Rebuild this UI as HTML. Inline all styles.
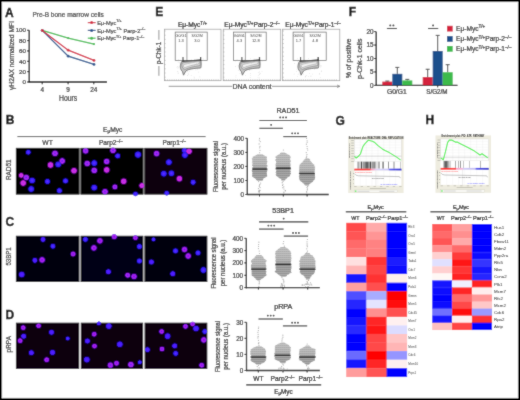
<!DOCTYPE html>
<html><head><meta charset="utf-8"><style>
html,body{margin:0;padding:0;background:#fff;}
svg{display:block;will-change:transform;}
text{font-family:"Liberation Sans",sans-serif;}
</style></head><body>
<svg width="520" height="400" viewBox="0 0 520 400">
<defs>
<filter id="soft" x="0" y="0" width="1" height="1"><feConvolveMatrix order="3" kernelMatrix="0.025 0.075 0.025 0.075 0.6 0.075 0.025 0.075 0.025" edgeMode="duplicate" preserveAlpha="true"/></filter>
<radialGradient id="cb"><stop offset="0" stop-color="#6a28ff" stop-opacity="1"/><stop offset="0.5" stop-color="#3a22ff" stop-opacity="1"/><stop offset="0.78" stop-color="#2a1af0" stop-opacity="0.9"/><stop offset="1" stop-color="#2010e0" stop-opacity="0"/></radialGradient>
<radialGradient id="cm"><stop offset="0" stop-color="#4a20ff" stop-opacity="1"/><stop offset="0.45" stop-color="#b828f0" stop-opacity="1"/><stop offset="0.75" stop-color="#9020f8" stop-opacity="0.9"/><stop offset="1" stop-color="#3018f0" stop-opacity="0"/></radialGradient>
<radialGradient id="cp"><stop offset="0" stop-color="#9030f0" stop-opacity="1"/><stop offset="0.45" stop-color="#e030e0" stop-opacity="1"/><stop offset="0.75" stop-color="#b820e8" stop-opacity="0.9"/><stop offset="1" stop-color="#6018f0" stop-opacity="0"/></radialGradient>
<radialGradient id="cv"><stop offset="0" stop-color="#5a1aff" stop-opacity="1"/><stop offset="0.5" stop-color="#4a1cff" stop-opacity="1"/><stop offset="0.78" stop-color="#3a14f0" stop-opacity="0.9"/><stop offset="1" stop-color="#2010e0" stop-opacity="0"/></radialGradient>
<radialGradient id="cv2"><stop offset="0" stop-color="#4a1aff" stop-opacity="1"/><stop offset="0.45" stop-color="#c020e8" stop-opacity="1"/><stop offset="0.75" stop-color="#7818f0" stop-opacity="0.9"/><stop offset="1" stop-color="#4010e0" stop-opacity="0"/></radialGradient>
<pattern id="swarm" width="2" height="2" patternUnits="userSpaceOnUse"><rect y="0" width="2" height="0.8" fill="#ffffff" fill-opacity="0.22"/><circle cx="0.5" cy="1.5" r="0.4" fill="#707070" fill-opacity="0.25"/></pattern>
<linearGradient id="cg2597_169" x1="0" y1="0" x2="0" y2="1"><stop offset="0" stop-color="#b8b8b8"/><stop offset="0.392" stop-color="#acacac"/><stop offset="0.561" stop-color="#909090"/><stop offset="1" stop-color="#9a9a9a"/></linearGradient>
<linearGradient id="cg2832_168" x1="0" y1="0" x2="0" y2="1"><stop offset="0" stop-color="#b8b8b8"/><stop offset="0.395" stop-color="#acacac"/><stop offset="0.564" stop-color="#909090"/><stop offset="1" stop-color="#9a9a9a"/></linearGradient>
<linearGradient id="cg3069_173" x1="0" y1="0" x2="0" y2="1"><stop offset="0" stop-color="#b8b8b8"/><stop offset="0.391" stop-color="#acacac"/><stop offset="0.559" stop-color="#909090"/><stop offset="1" stop-color="#9a9a9a"/></linearGradient>
<linearGradient id="cg2588_269" x1="0" y1="0" x2="0" y2="1"><stop offset="0" stop-color="#b8b8b8"/><stop offset="0.388" stop-color="#acacac"/><stop offset="0.555" stop-color="#909090"/><stop offset="1" stop-color="#9a9a9a"/></linearGradient>
<linearGradient id="cg2833_264" x1="0" y1="0" x2="0" y2="1"><stop offset="0" stop-color="#b8b8b8"/><stop offset="0.409" stop-color="#acacac"/><stop offset="0.584" stop-color="#909090"/><stop offset="1" stop-color="#9a9a9a"/></linearGradient>
<linearGradient id="cg3075_269" x1="0" y1="0" x2="0" y2="1"><stop offset="0" stop-color="#b8b8b8"/><stop offset="0.427" stop-color="#acacac"/><stop offset="0.610" stop-color="#909090"/><stop offset="1" stop-color="#9a9a9a"/></linearGradient>
<linearGradient id="cg2584_357" x1="0" y1="0" x2="0" y2="1"><stop offset="0" stop-color="#b8b8b8"/><stop offset="0.415" stop-color="#acacac"/><stop offset="0.592" stop-color="#909090"/><stop offset="1" stop-color="#9a9a9a"/></linearGradient>
<linearGradient id="cg2826_355" x1="0" y1="0" x2="0" y2="1"><stop offset="0" stop-color="#b8b8b8"/><stop offset="0.434" stop-color="#acacac"/><stop offset="0.620" stop-color="#909090"/><stop offset="1" stop-color="#9a9a9a"/></linearGradient>
<linearGradient id="cg3073_357" x1="0" y1="0" x2="0" y2="1"><stop offset="0" stop-color="#b8b8b8"/><stop offset="0.419" stop-color="#acacac"/><stop offset="0.599" stop-color="#909090"/><stop offset="1" stop-color="#9a9a9a"/></linearGradient>
<linearGradient id="bcg348" gradientUnits="userSpaceOnUse" x1="354.4" y1="0" x2="401.4" y2="0"><stop offset="0.0447" stop-color="#ffffff"/><stop offset="0.0447" stop-color="#c4c4c4"/><stop offset="0.0766" stop-color="#c4c4c4"/><stop offset="0.0766" stop-color="#ffffff"/><stop offset="0.0766" stop-color="#ffffff"/><stop offset="0.0766" stop-color="#a8a8a8"/><stop offset="0.1085" stop-color="#a8a8a8"/><stop offset="0.1085" stop-color="#ffffff"/><stop offset="0.1085" stop-color="#ffffff"/><stop offset="0.1085" stop-color="#d0d0d0"/><stop offset="0.1298" stop-color="#d0d0d0"/><stop offset="0.1298" stop-color="#ffffff"/><stop offset="0.1298" stop-color="#ffffff"/><stop offset="0.1298" stop-color="#151515"/><stop offset="0.1511" stop-color="#151515"/><stop offset="0.1511" stop-color="#ffffff"/><stop offset="0.1511" stop-color="#ffffff"/><stop offset="0.1511" stop-color="#c8c8c8"/><stop offset="0.1830" stop-color="#c8c8c8"/><stop offset="0.1830" stop-color="#ffffff"/><stop offset="0.1830" stop-color="#ffffff"/><stop offset="0.1830" stop-color="#9a9a9a"/><stop offset="0.2149" stop-color="#9a9a9a"/><stop offset="0.2149" stop-color="#ffffff"/><stop offset="0.2149" stop-color="#ffffff"/><stop offset="0.2149" stop-color="#7a7a7a"/><stop offset="0.2468" stop-color="#7a7a7a"/><stop offset="0.2468" stop-color="#ffffff"/><stop offset="0.2468" stop-color="#ffffff"/><stop offset="0.2468" stop-color="#606060"/><stop offset="0.2894" stop-color="#606060"/><stop offset="0.2894" stop-color="#ffffff"/><stop offset="0.2894" stop-color="#ffffff"/><stop offset="0.2894" stop-color="#8a8a8a"/><stop offset="0.3106" stop-color="#8a8a8a"/><stop offset="0.3106" stop-color="#ffffff"/><stop offset="0.3106" stop-color="#ffffff"/><stop offset="0.3106" stop-color="#a0a0a0"/><stop offset="0.3383" stop-color="#a0a0a0"/><stop offset="0.3383" stop-color="#ffffff"/><stop offset="0.3383" stop-color="#ffffff"/><stop offset="0.3383" stop-color="#202020"/><stop offset="0.3574" stop-color="#202020"/><stop offset="0.3574" stop-color="#ffffff"/><stop offset="0.3574" stop-color="#ffffff"/><stop offset="0.3574" stop-color="#bcbcbc"/><stop offset="0.3851" stop-color="#bcbcbc"/><stop offset="0.3851" stop-color="#ffffff"/><stop offset="0.3851" stop-color="#ffffff"/><stop offset="0.3851" stop-color="#9a9a9a"/><stop offset="0.4170" stop-color="#9a9a9a"/><stop offset="0.4170" stop-color="#ffffff"/><stop offset="0.4170" stop-color="#ffffff"/><stop offset="0.4170" stop-color="#8a8a8a"/><stop offset="0.4489" stop-color="#8a8a8a"/><stop offset="0.4489" stop-color="#ffffff"/><stop offset="0.4489" stop-color="#ffffff"/><stop offset="0.4489" stop-color="#b8b8b8"/><stop offset="0.4702" stop-color="#b8b8b8"/><stop offset="0.4702" stop-color="#ffffff"/><stop offset="0.4702" stop-color="#ffffff"/><stop offset="0.4702" stop-color="#e4e4e4"/><stop offset="0.5021" stop-color="#e4e4e4"/><stop offset="0.5021" stop-color="#ffffff"/><stop offset="0.5021" stop-color="#ffffff"/><stop offset="0.5021" stop-color="#b4b4b4"/><stop offset="0.5447" stop-color="#b4b4b4"/><stop offset="0.5447" stop-color="#ffffff"/><stop offset="0.5872" stop-color="#ffffff"/><stop offset="0.5872" stop-color="#a8a8a8"/><stop offset="0.6085" stop-color="#a8a8a8"/><stop offset="0.6085" stop-color="#ffffff"/><stop offset="0.6085" stop-color="#ffffff"/><stop offset="0.6085" stop-color="#8c8c8c"/><stop offset="0.6298" stop-color="#8c8c8c"/><stop offset="0.6298" stop-color="#ffffff"/><stop offset="0.7043" stop-color="#ffffff"/><stop offset="0.7043" stop-color="#b0b0b0"/><stop offset="0.7255" stop-color="#b0b0b0"/><stop offset="0.7255" stop-color="#ffffff"/><stop offset="0.7255" stop-color="#ffffff"/><stop offset="0.7255" stop-color="#8c8c8c"/><stop offset="0.7468" stop-color="#8c8c8c"/><stop offset="0.7468" stop-color="#ffffff"/><stop offset="0.8319" stop-color="#ffffff"/><stop offset="0.8319" stop-color="#c4c4c4"/><stop offset="0.8532" stop-color="#c4c4c4"/><stop offset="0.8532" stop-color="#ffffff"/><stop offset="0.9766" stop-color="#ffffff"/><stop offset="0.9766" stop-color="#c8c8c8"/><stop offset="0.9936" stop-color="#c8c8c8"/><stop offset="0.9936" stop-color="#ffffff"/></linearGradient>
<linearGradient id="rb348" x1="0" x2="1"><stop offset="0" stop-color="#ff2020"/><stop offset="0.33" stop-color="#ff3838"/><stop offset="0.36" stop-color="#ff8fb0"/><stop offset="0.45" stop-color="#e8c8f0"/><stop offset="0.5" stop-color="#d8d4fa"/><stop offset="0.72" stop-color="#c8c4f8"/><stop offset="0.75" stop-color="#5050f0"/><stop offset="1" stop-color="#0000d0"/></linearGradient>
<linearGradient id="bcg435" gradientUnits="userSpaceOnUse" x1="440.7" y1="0" x2="488.6" y2="0"><stop offset="0.0376" stop-color="#ffffff"/><stop offset="0.0376" stop-color="#c4c4c4"/><stop offset="0.0752" stop-color="#c4c4c4"/><stop offset="0.0752" stop-color="#ffffff"/><stop offset="0.0752" stop-color="#ffffff"/><stop offset="0.0752" stop-color="#808080"/><stop offset="0.0939" stop-color="#808080"/><stop offset="0.0939" stop-color="#ffffff"/><stop offset="0.0939" stop-color="#ffffff"/><stop offset="0.0939" stop-color="#606060"/><stop offset="0.1211" stop-color="#606060"/><stop offset="0.1211" stop-color="#ffffff"/><stop offset="0.1211" stop-color="#ffffff"/><stop offset="0.1211" stop-color="#8c8c8c"/><stop offset="0.1524" stop-color="#8c8c8c"/><stop offset="0.1524" stop-color="#ffffff"/><stop offset="0.1524" stop-color="#ffffff"/><stop offset="0.1524" stop-color="#b0b0b0"/><stop offset="0.1837" stop-color="#b0b0b0"/><stop offset="0.1837" stop-color="#ffffff"/><stop offset="0.1837" stop-color="#ffffff"/><stop offset="0.1837" stop-color="#d4d4d4"/><stop offset="0.2150" stop-color="#d4d4d4"/><stop offset="0.2150" stop-color="#ffffff"/><stop offset="0.2985" stop-color="#ffffff"/><stop offset="0.2985" stop-color="#a4a4a4"/><stop offset="0.3194" stop-color="#a4a4a4"/><stop offset="0.3194" stop-color="#ffffff"/><stop offset="0.3299" stop-color="#ffffff"/><stop offset="0.3299" stop-color="#c4c4c4"/><stop offset="0.3507" stop-color="#c4c4c4"/><stop offset="0.3507" stop-color="#ffffff"/><stop offset="0.3612" stop-color="#ffffff"/><stop offset="0.3612" stop-color="#b0b0b0"/><stop offset="0.3820" stop-color="#b0b0b0"/><stop offset="0.3820" stop-color="#ffffff"/><stop offset="0.4029" stop-color="#ffffff"/><stop offset="0.4029" stop-color="#8c8c8c"/><stop offset="0.4342" stop-color="#8c8c8c"/><stop offset="0.4342" stop-color="#ffffff"/><stop offset="0.4656" stop-color="#ffffff"/><stop offset="0.4656" stop-color="#c4c4c4"/><stop offset="0.4864" stop-color="#c4c4c4"/><stop offset="0.4864" stop-color="#ffffff"/><stop offset="0.5908" stop-color="#ffffff"/><stop offset="0.5908" stop-color="#c8c8c8"/><stop offset="0.6117" stop-color="#c8c8c8"/><stop offset="0.6117" stop-color="#ffffff"/><stop offset="0.8205" stop-color="#ffffff"/><stop offset="0.8205" stop-color="#b0b0b0"/><stop offset="0.8372" stop-color="#b0b0b0"/><stop offset="0.8372" stop-color="#ffffff"/></linearGradient>
<linearGradient id="rb435" x1="0" x2="1"><stop offset="0" stop-color="#ff1a1a"/><stop offset="0.31" stop-color="#ff3030"/><stop offset="0.33" stop-color="#ff9ec8"/><stop offset="0.46" stop-color="#f0b8e0"/><stop offset="0.48" stop-color="#cfcaf8"/><stop offset="0.72" stop-color="#c0baf4"/><stop offset="0.74" stop-color="#4a4af0"/><stop offset="1" stop-color="#0000c8"/></linearGradient>
</defs>
<g filter="url(#soft)">
<rect x="0" y="0" width="520" height="400" fill="#ffffff"/>
<text x="5" y="16.6" font-size="12" text-anchor="start" fill="#000" font-weight="bold" stroke="#000" stroke-width="0.35">A</text>
<text x="32.4" y="17.3" font-size="6.8" text-anchor="start" fill="#444" font-weight="normal" stroke="#444" stroke-width="0.24" textLength="71.4" lengthAdjust="spacingAndGlyphs">Pre-B bone marrow cells</text>
<line x1="29.2" y1="30.3" x2="29.2" y2="82.6" stroke="#111" stroke-width="1.3"/>
<line x1="28.599999999999998" y1="82.0" x2="107" y2="82.0" stroke="#111" stroke-width="1.3"/>
<line x1="27.0" y1="82.0" x2="29.2" y2="82.0" stroke="#111" stroke-width="1"/>
<text x="26" y="84.2" font-size="6.2" text-anchor="end" fill="#333" font-weight="normal" stroke="#333" stroke-width="0.24">0</text>
<line x1="27.0" y1="71.65" x2="29.2" y2="71.65" stroke="#111" stroke-width="1"/>
<text x="26" y="73.85000000000001" font-size="6.2" text-anchor="end" fill="#333" font-weight="normal" stroke="#333" stroke-width="0.24">20</text>
<line x1="27.0" y1="61.3" x2="29.2" y2="61.3" stroke="#111" stroke-width="1"/>
<text x="26" y="63.5" font-size="6.2" text-anchor="end" fill="#333" font-weight="normal" stroke="#333" stroke-width="0.24">40</text>
<line x1="27.0" y1="50.95" x2="29.2" y2="50.95" stroke="#111" stroke-width="1"/>
<text x="26" y="53.150000000000006" font-size="6.2" text-anchor="end" fill="#333" font-weight="normal" stroke="#333" stroke-width="0.24">60</text>
<line x1="27.0" y1="40.6" x2="29.2" y2="40.6" stroke="#111" stroke-width="1"/>
<text x="26" y="42.800000000000004" font-size="6.2" text-anchor="end" fill="#333" font-weight="normal" stroke="#333" stroke-width="0.24">80</text>
<line x1="27.0" y1="30.250000000000007" x2="29.2" y2="30.250000000000007" stroke="#111" stroke-width="1"/>
<text x="26" y="32.45000000000001" font-size="6.2" text-anchor="end" fill="#333" font-weight="normal" stroke="#333" stroke-width="0.24">100</text>
<line x1="42.2" y1="82.0" x2="42.2" y2="84.3" stroke="#111" stroke-width="1"/>
<text x="42.2" y="91.7" font-size="6.4" text-anchor="middle" fill="#333" font-weight="normal" stroke="#333" stroke-width="0.24">4</text>
<line x1="68.1" y1="82.0" x2="68.1" y2="84.3" stroke="#111" stroke-width="1"/>
<text x="68.1" y="91.7" font-size="6.4" text-anchor="middle" fill="#333" font-weight="normal" stroke="#333" stroke-width="0.24">9</text>
<line x1="93.8" y1="82.0" x2="93.8" y2="84.3" stroke="#111" stroke-width="1"/>
<text x="93.8" y="91.7" font-size="6.4" text-anchor="middle" fill="#333" font-weight="normal" stroke="#333" stroke-width="0.24">24</text>
<text x="68.1" y="100.6" font-size="8.6" text-anchor="middle" fill="#333" font-weight="normal" stroke="#333" stroke-width="0.24" textLength="18.2" lengthAdjust="spacingAndGlyphs">Hours</text>
<text x="13.6" y="55.5" font-size="7" text-anchor="middle" fill="#333" font-weight="normal" stroke="#333" stroke-width="0.24" textLength="69" lengthAdjust="spacingAndGlyphs" transform="rotate(-90 13.6 55.5)">γH2AX normalized MFI</text>
<polyline points="42.2,30.4 68.2,38.1 94,44.1" fill="none" stroke="#3dba4b" stroke-width="1.3"/>
<circle cx="42.2" cy="30.4" r="1.1" fill="#3dba4b"/>
<circle cx="68.2" cy="38.1" r="1.1" fill="#3dba4b"/>
<circle cx="94" cy="44.1" r="1.1" fill="#3dba4b"/>
<polyline points="42.2,30.4 68.2,56.2 94,64.4" fill="none" stroke="#1b4f8c" stroke-width="1.3"/>
<circle cx="42.2" cy="30.4" r="1.4" fill="#1b4f8c"/>
<circle cx="68.2" cy="56.2" r="1.4" fill="#1b4f8c"/>
<circle cx="94" cy="64.4" r="1.4" fill="#1b4f8c"/>
<polyline points="42.2,30.4 68.2,50.2 94,60.4" fill="none" stroke="#d4213d" stroke-width="1.3"/>
<circle cx="42.2" cy="30.4" r="1.4" fill="#d4213d"/>
<circle cx="68.2" cy="50.2" r="1.4" fill="#d4213d"/>
<circle cx="94" cy="60.4" r="1.4" fill="#d4213d"/>
<line x1="87.8" y1="22.6" x2="95.6" y2="22.6" stroke="#d4213d" stroke-width="1.2"/>
<circle cx="91.6" cy="22.6" r="1.5" fill="#d4213d"/>
<text x="97.2" y="24.8" font-size="6.2" text-anchor="start" fill="#444" font-weight="normal" stroke="#444" stroke-width="0.24" textLength="24.3" lengthAdjust="spacingAndGlyphs">Eμ-Myc<tspan font-size="4.0" dy="-2.4">T/+</tspan></text>
<line x1="87.8" y1="30.4" x2="95.6" y2="30.4" stroke="#1b4f8c" stroke-width="1.2"/>
<circle cx="91.6" cy="30.4" r="1.5" fill="#1b4f8c"/>
<text x="97.2" y="32.6" font-size="6.2" text-anchor="start" fill="#444" font-weight="normal" stroke="#444" stroke-width="0.24" textLength="48.2" lengthAdjust="spacingAndGlyphs">Eμ-Myc<tspan font-size="4.0" dy="-2.4">T/+</tspan><tspan dy="2.4"> Parp-2</tspan><tspan font-size="4.0" dy="-2.4">–/–</tspan></text>
<line x1="87.8" y1="38.2" x2="95.6" y2="38.2" stroke="#3dba4b" stroke-width="1.2"/>
<circle cx="91.6" cy="38.2" r="1.5" fill="#3dba4b"/>
<text x="97.2" y="40.400000000000006" font-size="6.2" text-anchor="start" fill="#444" font-weight="normal" stroke="#444" stroke-width="0.24" textLength="47.1" lengthAdjust="spacingAndGlyphs">Eμ-Myc<tspan font-size="4.0" dy="-2.4">T/+</tspan><tspan dy="2.4"> Parp-1</tspan><tspan font-size="4.0" dy="-2.4">–/–</tspan></text>
<text x="155.3" y="16.3" font-size="12" text-anchor="start" fill="#000" font-weight="bold" stroke="#000" stroke-width="0.35">E</text>
<text x="192.5" y="27.0" font-size="6.6" text-anchor="middle" fill="#222" font-weight="normal" stroke="#222" stroke-width="0.24">Eμ-Myc<tspan font-size="4.6" dy="-2.0">T/+</tspan></text>
<rect x="164.4" y="29.2" width="56.599999999999994" height="51.5" fill="none" stroke="#9a9a9a" stroke-width="0.7"/>
<line x1="164.4" y1="31.0" x2="165.6" y2="31.0" stroke="#9a9a9a" stroke-width="0.6"/>
<line x1="164.4" y1="35.2" x2="165.6" y2="35.2" stroke="#9a9a9a" stroke-width="0.6"/>
<line x1="164.4" y1="39.4" x2="165.6" y2="39.4" stroke="#9a9a9a" stroke-width="0.6"/>
<line x1="164.4" y1="43.6" x2="165.6" y2="43.6" stroke="#9a9a9a" stroke-width="0.6"/>
<line x1="164.4" y1="47.8" x2="165.6" y2="47.8" stroke="#9a9a9a" stroke-width="0.6"/>
<line x1="164.4" y1="52.0" x2="165.6" y2="52.0" stroke="#9a9a9a" stroke-width="0.6"/>
<line x1="164.4" y1="56.2" x2="165.6" y2="56.2" stroke="#9a9a9a" stroke-width="0.6"/>
<line x1="164.4" y1="60.400000000000006" x2="165.6" y2="60.400000000000006" stroke="#9a9a9a" stroke-width="0.6"/>
<line x1="164.4" y1="64.6" x2="165.6" y2="64.6" stroke="#9a9a9a" stroke-width="0.6"/>
<line x1="164.4" y1="68.80000000000001" x2="165.6" y2="68.80000000000001" stroke="#9a9a9a" stroke-width="0.6"/>
<line x1="164.4" y1="73.0" x2="165.6" y2="73.0" stroke="#9a9a9a" stroke-width="0.6"/>
<line x1="164.4" y1="77.2" x2="165.6" y2="77.2" stroke="#9a9a9a" stroke-width="0.6"/>
<line x1="165.4" y1="80.7" x2="165.4" y2="79.4" stroke="#9a9a9a" stroke-width="0.6"/>
<line x1="167.6" y1="80.7" x2="167.6" y2="79.4" stroke="#9a9a9a" stroke-width="0.6"/>
<line x1="169.8" y1="80.7" x2="169.8" y2="79.4" stroke="#9a9a9a" stroke-width="0.6"/>
<line x1="172.0" y1="80.7" x2="172.0" y2="79.4" stroke="#9a9a9a" stroke-width="0.6"/>
<line x1="174.20000000000002" y1="80.7" x2="174.20000000000002" y2="79.4" stroke="#9a9a9a" stroke-width="0.6"/>
<line x1="176.4" y1="80.7" x2="176.4" y2="79.4" stroke="#9a9a9a" stroke-width="0.6"/>
<line x1="178.6" y1="80.7" x2="178.6" y2="79.4" stroke="#9a9a9a" stroke-width="0.6"/>
<line x1="180.8" y1="80.7" x2="180.8" y2="79.4" stroke="#9a9a9a" stroke-width="0.6"/>
<line x1="183.0" y1="80.7" x2="183.0" y2="79.4" stroke="#9a9a9a" stroke-width="0.6"/>
<line x1="185.20000000000002" y1="80.7" x2="185.20000000000002" y2="79.4" stroke="#9a9a9a" stroke-width="0.6"/>
<line x1="187.4" y1="80.7" x2="187.4" y2="79.4" stroke="#9a9a9a" stroke-width="0.6"/>
<line x1="189.60000000000002" y1="80.7" x2="189.60000000000002" y2="79.4" stroke="#9a9a9a" stroke-width="0.6"/>
<line x1="191.8" y1="80.7" x2="191.8" y2="79.4" stroke="#9a9a9a" stroke-width="0.6"/>
<line x1="194.0" y1="80.7" x2="194.0" y2="79.4" stroke="#9a9a9a" stroke-width="0.6"/>
<line x1="196.20000000000002" y1="80.7" x2="196.20000000000002" y2="79.4" stroke="#9a9a9a" stroke-width="0.6"/>
<line x1="198.4" y1="80.7" x2="198.4" y2="79.4" stroke="#9a9a9a" stroke-width="0.6"/>
<line x1="200.60000000000002" y1="80.7" x2="200.60000000000002" y2="79.4" stroke="#9a9a9a" stroke-width="0.6"/>
<line x1="202.8" y1="80.7" x2="202.8" y2="79.4" stroke="#9a9a9a" stroke-width="0.6"/>
<line x1="205.0" y1="80.7" x2="205.0" y2="79.4" stroke="#9a9a9a" stroke-width="0.6"/>
<line x1="207.20000000000002" y1="80.7" x2="207.20000000000002" y2="79.4" stroke="#9a9a9a" stroke-width="0.6"/>
<line x1="209.4" y1="80.7" x2="209.4" y2="79.4" stroke="#9a9a9a" stroke-width="0.6"/>
<line x1="211.60000000000002" y1="80.7" x2="211.60000000000002" y2="79.4" stroke="#9a9a9a" stroke-width="0.6"/>
<line x1="213.8" y1="80.7" x2="213.8" y2="79.4" stroke="#9a9a9a" stroke-width="0.6"/>
<line x1="216.0" y1="80.7" x2="216.0" y2="79.4" stroke="#9a9a9a" stroke-width="0.6"/>
<line x1="218.20000000000002" y1="80.7" x2="218.20000000000002" y2="79.4" stroke="#9a9a9a" stroke-width="0.6"/>
<rect x="175.2" y="32.1" width="32.0" height="28.3" fill="none" stroke="#666" stroke-width="0.7"/>
<line x1="186.9" y1="32.1" x2="186.9" y2="60.4" stroke="#888" stroke-width="0.8"/>
<text x="181.05" y="37.1" font-size="4.0" text-anchor="middle" fill="#333" font-weight="normal" textLength="10.900000000000016" lengthAdjust="spacingAndGlyphs">G0/G1</text>
<text x="197.05" y="37.1" font-size="4.0" text-anchor="middle" fill="#333" font-weight="normal" textLength="11.2" lengthAdjust="spacingAndGlyphs">S/G2/M</text>
<text x="181.05" y="41.6" font-size="4.0" text-anchor="middle" fill="#333" font-weight="normal">1.3</text>
<text x="197.05" y="41.6" font-size="4.0" text-anchor="middle" fill="#333" font-weight="normal">3.0</text>
<path d="M182.20,61.00 C188.40,60.80 195.40,60.60 201.00,59.80 L201.20,64.00 C201.20,66.50 201.00,67.50 200.70,68.00 C194.40,68.30 188.40,69.00 185.90,71.00 L183.50,75.20 L182.40,71.50 C180.60,70.00 180.00,67.00 180.40,65.50 C180.80,63.00 181.40,61.80 182.20,61.00 Z" fill="#c4c4c4" stroke="#444" stroke-width="0.65"/>
<path d="M182.00,63.00 C187.40,62.00 194.40,61.60 200.20,61.00 L200.20,65.50 C194.40,66.50 188.40,67.50 184.90,69.50 C182.40,69.00 181.60,66.00 182.00,63.00 Z" fill="#dadada" stroke="#666" stroke-width="0.45"/>
<path d="M183.40,64.80 C188.40,63.20 194.40,62.20 199.20,61.60 C199.40,62.80 198.90,63.60 197.90,64.00 C192.40,65.00 187.40,66.50 184.40,67.80 C183.60,67.00 183.30,65.80 183.40,64.80 Z" fill="#f2f2f2" stroke="#8a8a8a" stroke-width="0.4"/>
<line x1="182.20000000000002" y1="61.2" x2="201.0" y2="60.0" stroke="#333" stroke-width="1.0"/>
<circle cx="185.5" cy="61.0" r="0.28" fill="#aaa"/>
<circle cx="194.6" cy="59.4" r="0.28" fill="#aaa"/>
<circle cx="191.4" cy="65.3" r="0.28" fill="#aaa"/>
<circle cx="178.0" cy="68.1" r="0.28" fill="#aaa"/>
<circle cx="177.4" cy="66.7" r="0.28" fill="#aaa"/>
<circle cx="178.4" cy="59.8" r="0.28" fill="#aaa"/>
<circle cx="188.3" cy="74.5" r="0.28" fill="#aaa"/>
<circle cx="179.9" cy="62.5" r="0.28" fill="#aaa"/>
<circle cx="194.0" cy="77.0" r="0.28" fill="#aaa"/>
<circle cx="192.6" cy="65.9" r="0.28" fill="#aaa"/>
<circle cx="203.7" cy="58.9" r="0.28" fill="#aaa"/>
<circle cx="200.4" cy="63.8" r="0.28" fill="#aaa"/>
<circle cx="180.4" cy="60.4" r="0.28" fill="#aaa"/>
<circle cx="185.0" cy="74.3" r="0.28" fill="#aaa"/>
<circle cx="181.5" cy="69.6" r="0.28" fill="#aaa"/>
<circle cx="194.3" cy="65.4" r="0.28" fill="#aaa"/>
<circle cx="191.7" cy="59.3" r="0.28" fill="#aaa"/>
<circle cx="178.1" cy="62.1" r="0.28" fill="#aaa"/>
<circle cx="195.5" cy="66.6" r="0.28" fill="#aaa"/>
<circle cx="185.2" cy="69.7" r="0.28" fill="#aaa"/>
<circle cx="189.1" cy="64.0" r="0.28" fill="#aaa"/>
<circle cx="198.6" cy="72.0" r="0.28" fill="#aaa"/>
<circle cx="183.2" cy="69.5" r="0.28" fill="#aaa"/>
<circle cx="191.1" cy="75.5" r="0.28" fill="#aaa"/>
<circle cx="196.8" cy="63.8" r="0.28" fill="#aaa"/>
<circle cx="203.8" cy="60.4" r="0.28" fill="#aaa"/>
<circle cx="188.1" cy="73.1" r="0.28" fill="#aaa"/>
<circle cx="180.7" cy="67.8" r="0.28" fill="#aaa"/>
<circle cx="177.5" cy="71.4" r="0.28" fill="#aaa"/>
<circle cx="197.8" cy="69.5" r="0.28" fill="#aaa"/>
<circle cx="200.9" cy="64.3" r="0.28" fill="#aaa"/>
<circle cx="195.9" cy="69.9" r="0.28" fill="#aaa"/>
<circle cx="192.6" cy="67.1" r="0.28" fill="#aaa"/>
<circle cx="199.9" cy="76.9" r="0.28" fill="#aaa"/>
<circle cx="189.7" cy="71.3" r="0.28" fill="#aaa"/>
<circle cx="178.1" cy="72.0" r="0.28" fill="#aaa"/>
<circle cx="194.5" cy="77.9" r="0.28" fill="#aaa"/>
<circle cx="199.4" cy="63.7" r="0.28" fill="#aaa"/>
<circle cx="187.2" cy="71.4" r="0.28" fill="#aaa"/>
<circle cx="177.0" cy="67.2" r="0.28" fill="#aaa"/>
<circle cx="181.1" cy="60.3" r="0.28" fill="#aaa"/>
<circle cx="178.1" cy="73.4" r="0.28" fill="#aaa"/>
<circle cx="180.0" cy="63.0" r="0.28" fill="#aaa"/>
<circle cx="187.3" cy="75.4" r="0.28" fill="#aaa"/>
<circle cx="178.7" cy="67.0" r="0.28" fill="#aaa"/>
<line x1="183.0" y1="57" x2="183.0" y2="61.5" stroke="#333" stroke-width="1.0"/>
<line x1="200.6" y1="57" x2="200.6" y2="61.0" stroke="#222" stroke-width="1.2"/>
<text x="252.0" y="27.0" font-size="6.6" text-anchor="middle" fill="#222" font-weight="normal" stroke="#222" stroke-width="0.24">Eμ-Myc<tspan font-size="4.6" dy="-2.0">T/+</tspan><tspan dy="2.0">Parp-2</tspan><tspan font-size="4.6" dy="-2.0">–/–</tspan></text>
<rect x="223.2" y="29.2" width="57.5" height="51.5" fill="none" stroke="#9a9a9a" stroke-width="0.7"/>
<line x1="223.2" y1="31.0" x2="224.39999999999998" y2="31.0" stroke="#9a9a9a" stroke-width="0.6"/>
<line x1="223.2" y1="35.2" x2="224.39999999999998" y2="35.2" stroke="#9a9a9a" stroke-width="0.6"/>
<line x1="223.2" y1="39.4" x2="224.39999999999998" y2="39.4" stroke="#9a9a9a" stroke-width="0.6"/>
<line x1="223.2" y1="43.6" x2="224.39999999999998" y2="43.6" stroke="#9a9a9a" stroke-width="0.6"/>
<line x1="223.2" y1="47.8" x2="224.39999999999998" y2="47.8" stroke="#9a9a9a" stroke-width="0.6"/>
<line x1="223.2" y1="52.0" x2="224.39999999999998" y2="52.0" stroke="#9a9a9a" stroke-width="0.6"/>
<line x1="223.2" y1="56.2" x2="224.39999999999998" y2="56.2" stroke="#9a9a9a" stroke-width="0.6"/>
<line x1="223.2" y1="60.400000000000006" x2="224.39999999999998" y2="60.400000000000006" stroke="#9a9a9a" stroke-width="0.6"/>
<line x1="223.2" y1="64.6" x2="224.39999999999998" y2="64.6" stroke="#9a9a9a" stroke-width="0.6"/>
<line x1="223.2" y1="68.80000000000001" x2="224.39999999999998" y2="68.80000000000001" stroke="#9a9a9a" stroke-width="0.6"/>
<line x1="223.2" y1="73.0" x2="224.39999999999998" y2="73.0" stroke="#9a9a9a" stroke-width="0.6"/>
<line x1="223.2" y1="77.2" x2="224.39999999999998" y2="77.2" stroke="#9a9a9a" stroke-width="0.6"/>
<line x1="224.2" y1="80.7" x2="224.2" y2="79.4" stroke="#9a9a9a" stroke-width="0.6"/>
<line x1="226.39999999999998" y1="80.7" x2="226.39999999999998" y2="79.4" stroke="#9a9a9a" stroke-width="0.6"/>
<line x1="228.6" y1="80.7" x2="228.6" y2="79.4" stroke="#9a9a9a" stroke-width="0.6"/>
<line x1="230.79999999999998" y1="80.7" x2="230.79999999999998" y2="79.4" stroke="#9a9a9a" stroke-width="0.6"/>
<line x1="233.0" y1="80.7" x2="233.0" y2="79.4" stroke="#9a9a9a" stroke-width="0.6"/>
<line x1="235.2" y1="80.7" x2="235.2" y2="79.4" stroke="#9a9a9a" stroke-width="0.6"/>
<line x1="237.39999999999998" y1="80.7" x2="237.39999999999998" y2="79.4" stroke="#9a9a9a" stroke-width="0.6"/>
<line x1="239.6" y1="80.7" x2="239.6" y2="79.4" stroke="#9a9a9a" stroke-width="0.6"/>
<line x1="241.79999999999998" y1="80.7" x2="241.79999999999998" y2="79.4" stroke="#9a9a9a" stroke-width="0.6"/>
<line x1="244.0" y1="80.7" x2="244.0" y2="79.4" stroke="#9a9a9a" stroke-width="0.6"/>
<line x1="246.2" y1="80.7" x2="246.2" y2="79.4" stroke="#9a9a9a" stroke-width="0.6"/>
<line x1="248.39999999999998" y1="80.7" x2="248.39999999999998" y2="79.4" stroke="#9a9a9a" stroke-width="0.6"/>
<line x1="250.6" y1="80.7" x2="250.6" y2="79.4" stroke="#9a9a9a" stroke-width="0.6"/>
<line x1="252.79999999999998" y1="80.7" x2="252.79999999999998" y2="79.4" stroke="#9a9a9a" stroke-width="0.6"/>
<line x1="255.0" y1="80.7" x2="255.0" y2="79.4" stroke="#9a9a9a" stroke-width="0.6"/>
<line x1="257.2" y1="80.7" x2="257.2" y2="79.4" stroke="#9a9a9a" stroke-width="0.6"/>
<line x1="259.4" y1="80.7" x2="259.4" y2="79.4" stroke="#9a9a9a" stroke-width="0.6"/>
<line x1="261.6" y1="80.7" x2="261.6" y2="79.4" stroke="#9a9a9a" stroke-width="0.6"/>
<line x1="263.8" y1="80.7" x2="263.8" y2="79.4" stroke="#9a9a9a" stroke-width="0.6"/>
<line x1="266.0" y1="80.7" x2="266.0" y2="79.4" stroke="#9a9a9a" stroke-width="0.6"/>
<line x1="268.2" y1="80.7" x2="268.2" y2="79.4" stroke="#9a9a9a" stroke-width="0.6"/>
<line x1="270.4" y1="80.7" x2="270.4" y2="79.4" stroke="#9a9a9a" stroke-width="0.6"/>
<line x1="272.6" y1="80.7" x2="272.6" y2="79.4" stroke="#9a9a9a" stroke-width="0.6"/>
<line x1="274.8" y1="80.7" x2="274.8" y2="79.4" stroke="#9a9a9a" stroke-width="0.6"/>
<line x1="277.0" y1="80.7" x2="277.0" y2="79.4" stroke="#9a9a9a" stroke-width="0.6"/>
<line x1="279.2" y1="80.7" x2="279.2" y2="79.4" stroke="#9a9a9a" stroke-width="0.6"/>
<rect x="233.4" y="32.1" width="32.79999999999998" height="28.3" fill="none" stroke="#666" stroke-width="0.7"/>
<line x1="245.4" y1="32.1" x2="245.4" y2="60.4" stroke="#888" stroke-width="0.8"/>
<text x="239.4" y="37.1" font-size="4.0" text-anchor="middle" fill="#333" font-weight="normal" textLength="11.2" lengthAdjust="spacingAndGlyphs">G0/G1</text>
<text x="255.8" y="37.1" font-size="4.0" text-anchor="middle" fill="#333" font-weight="normal" textLength="11.2" lengthAdjust="spacingAndGlyphs">S/G2/M</text>
<text x="239.4" y="41.6" font-size="4.0" text-anchor="middle" fill="#333" font-weight="normal">4.3</text>
<text x="255.8" y="41.6" font-size="4.0" text-anchor="middle" fill="#333" font-weight="normal">12.8</text>
<path d="M241.10,61.00 C247.30,60.80 254.30,60.60 259.90,59.80 L260.10,64.00 C260.10,66.50 259.90,67.50 259.60,68.00 C253.30,68.30 247.30,69.00 244.80,71.00 L242.40,75.20 L241.30,71.50 C239.50,70.00 238.90,67.00 239.30,65.50 C239.70,63.00 240.30,61.80 241.10,61.00 Z" fill="#c4c4c4" stroke="#444" stroke-width="0.65"/>
<path d="M240.90,63.00 C246.30,62.00 253.30,61.60 259.10,61.00 L259.10,65.50 C253.30,66.50 247.30,67.50 243.80,69.50 C241.30,69.00 240.50,66.00 240.90,63.00 Z" fill="#dadada" stroke="#666" stroke-width="0.45"/>
<path d="M242.30,64.80 C247.30,63.20 253.30,62.20 258.10,61.60 C258.30,62.80 257.80,63.60 256.80,64.00 C251.30,65.00 246.30,66.50 243.30,67.80 C242.50,67.00 242.20,65.80 242.30,64.80 Z" fill="#f2f2f2" stroke="#8a8a8a" stroke-width="0.4"/>
<line x1="241.10000000000002" y1="61.2" x2="259.90000000000003" y2="60.0" stroke="#333" stroke-width="1.0"/>
<circle cx="250.7" cy="75.7" r="0.28" fill="#aaa"/>
<circle cx="258.2" cy="75.3" r="0.28" fill="#aaa"/>
<circle cx="243.1" cy="66.3" r="0.28" fill="#aaa"/>
<circle cx="245.3" cy="75.7" r="0.28" fill="#aaa"/>
<circle cx="262.1" cy="61.0" r="0.28" fill="#aaa"/>
<circle cx="240.2" cy="62.6" r="0.28" fill="#aaa"/>
<circle cx="241.8" cy="67.7" r="0.28" fill="#aaa"/>
<circle cx="251.8" cy="63.3" r="0.28" fill="#aaa"/>
<circle cx="235.4" cy="66.4" r="0.28" fill="#aaa"/>
<circle cx="245.6" cy="69.3" r="0.28" fill="#aaa"/>
<circle cx="262.0" cy="71.8" r="0.28" fill="#aaa"/>
<circle cx="249.7" cy="70.4" r="0.28" fill="#aaa"/>
<circle cx="254.2" cy="59.1" r="0.28" fill="#aaa"/>
<circle cx="260.5" cy="73.6" r="0.28" fill="#aaa"/>
<circle cx="259.8" cy="74.0" r="0.28" fill="#aaa"/>
<circle cx="246.3" cy="66.0" r="0.28" fill="#aaa"/>
<circle cx="238.2" cy="70.7" r="0.28" fill="#aaa"/>
<circle cx="237.0" cy="59.3" r="0.28" fill="#aaa"/>
<circle cx="241.1" cy="61.2" r="0.28" fill="#aaa"/>
<circle cx="244.8" cy="59.1" r="0.28" fill="#aaa"/>
<circle cx="235.3" cy="61.0" r="0.28" fill="#aaa"/>
<circle cx="238.1" cy="65.3" r="0.28" fill="#aaa"/>
<circle cx="236.0" cy="75.5" r="0.28" fill="#aaa"/>
<circle cx="252.5" cy="61.0" r="0.28" fill="#aaa"/>
<circle cx="242.4" cy="64.9" r="0.28" fill="#aaa"/>
<circle cx="245.5" cy="60.5" r="0.28" fill="#aaa"/>
<circle cx="259.1" cy="77.9" r="0.28" fill="#aaa"/>
<circle cx="248.3" cy="67.7" r="0.28" fill="#aaa"/>
<circle cx="237.7" cy="60.0" r="0.28" fill="#aaa"/>
<circle cx="244.9" cy="63.3" r="0.28" fill="#aaa"/>
<circle cx="258.5" cy="61.2" r="0.28" fill="#aaa"/>
<circle cx="235.9" cy="77.0" r="0.28" fill="#aaa"/>
<circle cx="250.1" cy="60.9" r="0.28" fill="#aaa"/>
<circle cx="250.5" cy="58.5" r="0.28" fill="#aaa"/>
<circle cx="250.1" cy="77.6" r="0.28" fill="#aaa"/>
<circle cx="259.5" cy="71.9" r="0.28" fill="#aaa"/>
<circle cx="242.6" cy="65.3" r="0.28" fill="#aaa"/>
<circle cx="240.0" cy="73.4" r="0.28" fill="#aaa"/>
<circle cx="250.2" cy="73.6" r="0.28" fill="#aaa"/>
<circle cx="244.5" cy="62.5" r="0.28" fill="#aaa"/>
<circle cx="258.0" cy="77.7" r="0.28" fill="#aaa"/>
<circle cx="259.2" cy="74.1" r="0.28" fill="#aaa"/>
<circle cx="258.2" cy="72.8" r="0.28" fill="#aaa"/>
<circle cx="241.6" cy="68.4" r="0.28" fill="#aaa"/>
<circle cx="245.3" cy="58.6" r="0.28" fill="#aaa"/>
<line x1="241.9" y1="57" x2="241.9" y2="61.5" stroke="#333" stroke-width="1.0"/>
<line x1="259.5" y1="57" x2="259.5" y2="61.0" stroke="#222" stroke-width="1.2"/>
<text x="313.0" y="27.0" font-size="6.6" text-anchor="middle" fill="#222" font-weight="normal" stroke="#222" stroke-width="0.24">Eμ-Myc<tspan font-size="4.6" dy="-2.0">T/+</tspan><tspan dy="2.0">Parp-1</tspan><tspan font-size="4.6" dy="-2.0">–/–</tspan></text>
<rect x="282.6" y="29.2" width="57.19999999999999" height="51.5" fill="none" stroke="#9a9a9a" stroke-width="0.7"/>
<line x1="282.6" y1="31.0" x2="283.8" y2="31.0" stroke="#9a9a9a" stroke-width="0.6"/>
<line x1="282.6" y1="35.2" x2="283.8" y2="35.2" stroke="#9a9a9a" stroke-width="0.6"/>
<line x1="282.6" y1="39.4" x2="283.8" y2="39.4" stroke="#9a9a9a" stroke-width="0.6"/>
<line x1="282.6" y1="43.6" x2="283.8" y2="43.6" stroke="#9a9a9a" stroke-width="0.6"/>
<line x1="282.6" y1="47.8" x2="283.8" y2="47.8" stroke="#9a9a9a" stroke-width="0.6"/>
<line x1="282.6" y1="52.0" x2="283.8" y2="52.0" stroke="#9a9a9a" stroke-width="0.6"/>
<line x1="282.6" y1="56.2" x2="283.8" y2="56.2" stroke="#9a9a9a" stroke-width="0.6"/>
<line x1="282.6" y1="60.400000000000006" x2="283.8" y2="60.400000000000006" stroke="#9a9a9a" stroke-width="0.6"/>
<line x1="282.6" y1="64.6" x2="283.8" y2="64.6" stroke="#9a9a9a" stroke-width="0.6"/>
<line x1="282.6" y1="68.80000000000001" x2="283.8" y2="68.80000000000001" stroke="#9a9a9a" stroke-width="0.6"/>
<line x1="282.6" y1="73.0" x2="283.8" y2="73.0" stroke="#9a9a9a" stroke-width="0.6"/>
<line x1="282.6" y1="77.2" x2="283.8" y2="77.2" stroke="#9a9a9a" stroke-width="0.6"/>
<line x1="283.6" y1="80.7" x2="283.6" y2="79.4" stroke="#9a9a9a" stroke-width="0.6"/>
<line x1="285.8" y1="80.7" x2="285.8" y2="79.4" stroke="#9a9a9a" stroke-width="0.6"/>
<line x1="288.0" y1="80.7" x2="288.0" y2="79.4" stroke="#9a9a9a" stroke-width="0.6"/>
<line x1="290.20000000000005" y1="80.7" x2="290.20000000000005" y2="79.4" stroke="#9a9a9a" stroke-width="0.6"/>
<line x1="292.40000000000003" y1="80.7" x2="292.40000000000003" y2="79.4" stroke="#9a9a9a" stroke-width="0.6"/>
<line x1="294.6" y1="80.7" x2="294.6" y2="79.4" stroke="#9a9a9a" stroke-width="0.6"/>
<line x1="296.8" y1="80.7" x2="296.8" y2="79.4" stroke="#9a9a9a" stroke-width="0.6"/>
<line x1="299.0" y1="80.7" x2="299.0" y2="79.4" stroke="#9a9a9a" stroke-width="0.6"/>
<line x1="301.20000000000005" y1="80.7" x2="301.20000000000005" y2="79.4" stroke="#9a9a9a" stroke-width="0.6"/>
<line x1="303.40000000000003" y1="80.7" x2="303.40000000000003" y2="79.4" stroke="#9a9a9a" stroke-width="0.6"/>
<line x1="305.6" y1="80.7" x2="305.6" y2="79.4" stroke="#9a9a9a" stroke-width="0.6"/>
<line x1="307.8" y1="80.7" x2="307.8" y2="79.4" stroke="#9a9a9a" stroke-width="0.6"/>
<line x1="310.0" y1="80.7" x2="310.0" y2="79.4" stroke="#9a9a9a" stroke-width="0.6"/>
<line x1="312.20000000000005" y1="80.7" x2="312.20000000000005" y2="79.4" stroke="#9a9a9a" stroke-width="0.6"/>
<line x1="314.40000000000003" y1="80.7" x2="314.40000000000003" y2="79.4" stroke="#9a9a9a" stroke-width="0.6"/>
<line x1="316.6" y1="80.7" x2="316.6" y2="79.4" stroke="#9a9a9a" stroke-width="0.6"/>
<line x1="318.8" y1="80.7" x2="318.8" y2="79.4" stroke="#9a9a9a" stroke-width="0.6"/>
<line x1="321.0" y1="80.7" x2="321.0" y2="79.4" stroke="#9a9a9a" stroke-width="0.6"/>
<line x1="323.20000000000005" y1="80.7" x2="323.20000000000005" y2="79.4" stroke="#9a9a9a" stroke-width="0.6"/>
<line x1="325.40000000000003" y1="80.7" x2="325.40000000000003" y2="79.4" stroke="#9a9a9a" stroke-width="0.6"/>
<line x1="327.6" y1="80.7" x2="327.6" y2="79.4" stroke="#9a9a9a" stroke-width="0.6"/>
<line x1="329.8" y1="80.7" x2="329.8" y2="79.4" stroke="#9a9a9a" stroke-width="0.6"/>
<line x1="332.0" y1="80.7" x2="332.0" y2="79.4" stroke="#9a9a9a" stroke-width="0.6"/>
<line x1="334.20000000000005" y1="80.7" x2="334.20000000000005" y2="79.4" stroke="#9a9a9a" stroke-width="0.6"/>
<line x1="336.40000000000003" y1="80.7" x2="336.40000000000003" y2="79.4" stroke="#9a9a9a" stroke-width="0.6"/>
<rect x="293.1" y="32.1" width="33.099999999999966" height="28.3" fill="none" stroke="#666" stroke-width="0.7"/>
<line x1="304.0" y1="32.1" x2="304.0" y2="60.4" stroke="#888" stroke-width="0.8"/>
<text x="298.55" y="37.1" font-size="4.0" text-anchor="middle" fill="#333" font-weight="normal" textLength="10.099999999999977" lengthAdjust="spacingAndGlyphs">G0/G1</text>
<text x="315.1" y="37.1" font-size="4.0" text-anchor="middle" fill="#333" font-weight="normal" textLength="11.2" lengthAdjust="spacingAndGlyphs">S/G2/M</text>
<text x="298.55" y="41.6" font-size="4.0" text-anchor="middle" fill="#333" font-weight="normal">1.7</text>
<text x="315.1" y="41.6" font-size="4.0" text-anchor="middle" fill="#333" font-weight="normal">4.8</text>
<path d="M299.80,61.00 C306.00,60.80 313.00,60.60 318.60,59.80 L318.80,64.00 C318.80,66.50 318.60,67.50 318.30,68.00 C312.00,68.30 306.00,69.00 303.50,71.00 L301.10,75.20 L300.00,71.50 C298.20,70.00 297.60,67.00 298.00,65.50 C298.40,63.00 299.00,61.80 299.80,61.00 Z" fill="#c4c4c4" stroke="#444" stroke-width="0.65"/>
<path d="M299.60,63.00 C305.00,62.00 312.00,61.60 317.80,61.00 L317.80,65.50 C312.00,66.50 306.00,67.50 302.50,69.50 C300.00,69.00 299.20,66.00 299.60,63.00 Z" fill="#dadada" stroke="#666" stroke-width="0.45"/>
<path d="M301.00,64.80 C306.00,63.20 312.00,62.20 316.80,61.60 C317.00,62.80 316.50,63.60 315.50,64.00 C310.00,65.00 305.00,66.50 302.00,67.80 C301.20,67.00 300.90,65.80 301.00,64.80 Z" fill="#f2f2f2" stroke="#8a8a8a" stroke-width="0.4"/>
<line x1="299.8" y1="61.2" x2="318.6" y2="60.0" stroke="#333" stroke-width="1.0"/>
<circle cx="294.8" cy="63.6" r="0.28" fill="#aaa"/>
<circle cx="301.3" cy="71.9" r="0.28" fill="#aaa"/>
<circle cx="320.8" cy="66.9" r="0.28" fill="#aaa"/>
<circle cx="320.2" cy="77.8" r="0.28" fill="#aaa"/>
<circle cx="320.7" cy="65.3" r="0.28" fill="#aaa"/>
<circle cx="300.2" cy="62.5" r="0.28" fill="#aaa"/>
<circle cx="299.5" cy="62.1" r="0.28" fill="#aaa"/>
<circle cx="311.5" cy="76.0" r="0.28" fill="#aaa"/>
<circle cx="317.5" cy="67.6" r="0.28" fill="#aaa"/>
<circle cx="312.3" cy="74.0" r="0.28" fill="#aaa"/>
<circle cx="296.4" cy="71.2" r="0.28" fill="#aaa"/>
<circle cx="319.5" cy="73.6" r="0.28" fill="#aaa"/>
<circle cx="315.0" cy="67.6" r="0.28" fill="#aaa"/>
<circle cx="299.0" cy="73.8" r="0.28" fill="#aaa"/>
<circle cx="303.3" cy="74.0" r="0.28" fill="#aaa"/>
<circle cx="321.2" cy="65.9" r="0.28" fill="#aaa"/>
<circle cx="305.2" cy="76.9" r="0.28" fill="#aaa"/>
<circle cx="314.3" cy="61.4" r="0.28" fill="#aaa"/>
<circle cx="297.6" cy="61.0" r="0.28" fill="#aaa"/>
<circle cx="319.3" cy="74.1" r="0.28" fill="#aaa"/>
<circle cx="298.1" cy="74.5" r="0.28" fill="#aaa"/>
<circle cx="321.4" cy="71.1" r="0.28" fill="#aaa"/>
<circle cx="303.8" cy="69.0" r="0.28" fill="#aaa"/>
<circle cx="297.7" cy="58.3" r="0.28" fill="#aaa"/>
<circle cx="321.2" cy="71.0" r="0.28" fill="#aaa"/>
<circle cx="308.7" cy="76.7" r="0.28" fill="#aaa"/>
<circle cx="306.1" cy="75.4" r="0.28" fill="#aaa"/>
<circle cx="317.1" cy="62.2" r="0.28" fill="#aaa"/>
<circle cx="301.1" cy="63.9" r="0.28" fill="#aaa"/>
<circle cx="300.7" cy="69.7" r="0.28" fill="#aaa"/>
<circle cx="301.3" cy="66.4" r="0.28" fill="#aaa"/>
<circle cx="297.7" cy="76.2" r="0.28" fill="#aaa"/>
<circle cx="303.9" cy="67.2" r="0.28" fill="#aaa"/>
<circle cx="310.3" cy="76.1" r="0.28" fill="#aaa"/>
<circle cx="305.8" cy="76.4" r="0.28" fill="#aaa"/>
<circle cx="308.0" cy="68.6" r="0.28" fill="#aaa"/>
<circle cx="308.7" cy="58.4" r="0.28" fill="#aaa"/>
<circle cx="306.3" cy="61.7" r="0.28" fill="#aaa"/>
<circle cx="294.1" cy="74.0" r="0.28" fill="#aaa"/>
<circle cx="298.8" cy="67.5" r="0.28" fill="#aaa"/>
<circle cx="314.3" cy="69.1" r="0.28" fill="#aaa"/>
<circle cx="303.1" cy="68.4" r="0.28" fill="#aaa"/>
<circle cx="309.6" cy="73.7" r="0.28" fill="#aaa"/>
<circle cx="297.0" cy="69.2" r="0.28" fill="#aaa"/>
<circle cx="301.0" cy="63.5" r="0.28" fill="#aaa"/>
<line x1="300.6" y1="57" x2="300.6" y2="61.5" stroke="#333" stroke-width="1.0"/>
<line x1="318.2" y1="57" x2="318.2" y2="61.0" stroke="#222" stroke-width="1.2"/>
<text x="160.6" y="52.9" font-size="6.5" text-anchor="middle" fill="#333" font-weight="normal" stroke="#333" stroke-width="0.24" textLength="22" lengthAdjust="spacingAndGlyphs" transform="rotate(-90 160.6 52.9)">p-Chk-1</text>
<line x1="158.9" y1="30" x2="158.9" y2="39.8" stroke="#666" stroke-width="0.7"/>
<line x1="158.9" y1="66" x2="158.9" y2="75.8" stroke="#666" stroke-width="0.7"/>
<line x1="168.7" y1="86.3" x2="232.2" y2="86.3" stroke="#666" stroke-width="0.7"/>
<text x="232.5" y="88.5" font-size="6.5" text-anchor="start" fill="#333" font-weight="normal" stroke="#333" stroke-width="0.24" textLength="39" lengthAdjust="spacingAndGlyphs">DNA content</text>
<line x1="272" y1="86.3" x2="339.5" y2="86.3" stroke="#666" stroke-width="0.7"/>
<path d="M337,85 L340,86.3 L337,87.6" fill="none" stroke="#666" stroke-width="0.6"/>
<text x="348.8" y="16.3" font-size="12" text-anchor="start" fill="#000" font-weight="bold" stroke="#000" stroke-width="0.35">F</text>
<line x1="376.2" y1="31.7" x2="376.2" y2="86.0" stroke="#111" stroke-width="1.3"/>
<line x1="375.59999999999997" y1="85.4" x2="457.5" y2="85.4" stroke="#111" stroke-width="1.3"/>
<line x1="374.2" y1="85.4" x2="376.2" y2="85.4" stroke="#111" stroke-width="1"/>
<text x="373.5" y="87.60000000000001" font-size="6.4" text-anchor="end" fill="#333" font-weight="normal" stroke="#333" stroke-width="0.24">0</text>
<line x1="374.2" y1="71.95" x2="376.2" y2="71.95" stroke="#111" stroke-width="1"/>
<text x="373.5" y="74.15" font-size="6.4" text-anchor="end" fill="#333" font-weight="normal" stroke="#333" stroke-width="0.24">5</text>
<line x1="374.2" y1="58.50000000000001" x2="376.2" y2="58.50000000000001" stroke="#111" stroke-width="1"/>
<text x="373.5" y="60.70000000000001" font-size="6.4" text-anchor="end" fill="#333" font-weight="normal" stroke="#333" stroke-width="0.24">10</text>
<line x1="374.2" y1="45.050000000000004" x2="376.2" y2="45.050000000000004" stroke="#111" stroke-width="1"/>
<text x="373.5" y="47.25000000000001" font-size="6.4" text-anchor="end" fill="#333" font-weight="normal" stroke="#333" stroke-width="0.24">15</text>
<line x1="374.2" y1="31.60000000000001" x2="376.2" y2="31.60000000000001" stroke="#111" stroke-width="1"/>
<text x="373.5" y="33.80000000000001" font-size="6.4" text-anchor="end" fill="#333" font-weight="normal" stroke="#333" stroke-width="0.24">20</text>
<line x1="397.3" y1="85.4" x2="397.3" y2="87.4" stroke="#111" stroke-width="1"/>
<line x1="437.7" y1="85.4" x2="437.7" y2="87.4" stroke="#111" stroke-width="1"/>
<text x="396.8" y="93.9" font-size="6.6" text-anchor="middle" fill="#333" font-weight="normal" stroke="#333" stroke-width="0.24" textLength="19.7" lengthAdjust="spacingAndGlyphs">G0/G1</text>
<text x="436.9" y="93.9" font-size="6.6" text-anchor="middle" fill="#333" font-weight="normal" stroke="#333" stroke-width="0.24" textLength="21.3" lengthAdjust="spacingAndGlyphs">S/G2/M</text>
<text x="351.2" y="58.5" font-size="7" text-anchor="middle" fill="#333" font-weight="normal" stroke="#333" stroke-width="0.24" textLength="39.7" lengthAdjust="spacingAndGlyphs" transform="rotate(-90 351.2 58.5)">% of positive</text>
<text x="362.4" y="58.8" font-size="7" text-anchor="middle" fill="#333" font-weight="normal" stroke="#333" stroke-width="0.24" textLength="40.3" lengthAdjust="spacingAndGlyphs" transform="rotate(-90 362.4 58.8)">p-Chk-1 cells</text>
<line x1="387.3" y1="81.096" x2="387.3" y2="81.634" stroke="#444" stroke-width="1"/>
<line x1="385.3" y1="81.096" x2="389.3" y2="81.096" stroke="#444" stroke-width="1"/>
<rect x="382.3" y="81.634" width="10" height="3.7660000000000053" fill="#d4213d" stroke="none" stroke-width="1"/>
<line x1="397.3" y1="67.37700000000001" x2="397.3" y2="73.833" stroke="#444" stroke-width="1"/>
<line x1="395.3" y1="67.37700000000001" x2="399.3" y2="67.37700000000001" stroke="#444" stroke-width="1"/>
<rect x="392.3" y="73.833" width="10" height="11.567000000000007" fill="#1b4f8c" stroke="none" stroke-width="1"/>
<line x1="407.3" y1="79.34750000000001" x2="407.3" y2="80.4235" stroke="#444" stroke-width="1"/>
<line x1="405.3" y1="79.34750000000001" x2="409.3" y2="79.34750000000001" stroke="#444" stroke-width="1"/>
<rect x="402.3" y="80.4235" width="10" height="4.9765000000000015" fill="#3dba4b" stroke="none" stroke-width="1"/>
<line x1="427.7" y1="69.26" x2="427.7" y2="77.061" stroke="#444" stroke-width="1"/>
<line x1="425.7" y1="69.26" x2="429.7" y2="69.26" stroke="#444" stroke-width="1"/>
<rect x="422.7" y="77.061" width="10" height="8.338999999999999" fill="#d4213d" stroke="none" stroke-width="1"/>
<line x1="437.7" y1="35.366" x2="437.7" y2="50.968" stroke="#444" stroke-width="1"/>
<line x1="435.7" y1="35.366" x2="439.7" y2="35.366" stroke="#444" stroke-width="1"/>
<rect x="432.7" y="50.968" width="10" height="34.432" fill="#1b4f8c" stroke="none" stroke-width="1"/>
<line x1="447.7" y1="64.68700000000001" x2="447.7" y2="72.21900000000001" stroke="#444" stroke-width="1"/>
<line x1="445.7" y1="64.68700000000001" x2="449.7" y2="64.68700000000001" stroke="#444" stroke-width="1"/>
<rect x="442.7" y="72.21900000000001" width="10" height="13.180999999999997" fill="#3dba4b" stroke="none" stroke-width="1"/>
<line x1="386.9" y1="28.5" x2="396.9" y2="28.5" stroke="#222" stroke-width="1.1"/>
<circle cx="390.3" cy="25.4" r="0.95" fill="#1a1a1a"/><circle cx="393.4" cy="25.4" r="0.95" fill="#1a1a1a"/>
<line x1="428" y1="28.5" x2="438.2" y2="28.5" stroke="#222" stroke-width="1.1"/>
<circle cx="433.1" cy="25.4" r="0.95" fill="#1a1a1a"/>
<rect x="447" y="25.8" width="5.7" height="5.7" fill="#d4213d" stroke="none" stroke-width="1"/>
<text x="456" y="31.0" font-size="6.6" text-anchor="start" fill="#333" font-weight="normal" stroke="#333" stroke-width="0.24">Eμ-Myc<tspan font-size="4.6" dy="-2.6">T/+</tspan></text>
<rect x="447" y="36.1" width="5.7" height="5.7" fill="#1b4f8c" stroke="none" stroke-width="1"/>
<text x="456" y="41.3" font-size="6.6" text-anchor="start" fill="#333" font-weight="normal" stroke="#333" stroke-width="0.24">Eμ-Myc<tspan font-size="4.6" dy="-2.6">T/+</tspan><tspan dy="2.6">Parp-2</tspan><tspan font-size="4.6" dy="-2.6">–/–</tspan></text>
<rect x="447" y="46.0" width="5.7" height="5.7" fill="#3dba4b" stroke="none" stroke-width="1"/>
<text x="456" y="51.199999999999996" font-size="6.6" text-anchor="start" fill="#333" font-weight="normal" stroke="#333" stroke-width="0.24">Eμ-Myc<tspan font-size="4.6" dy="-2.6">T/+</tspan><tspan dy="2.6">Parp-1</tspan><tspan font-size="4.6" dy="-2.6">–/–</tspan></text>
<rect x="15.9" y="147.9" width="191.4" height="46.6" fill="#8a8a8a" stroke="none" stroke-width="1"/>
<rect x="15.9" y="147.9" width="63.300000000000004" height="46.6" fill="#000000" stroke="none" stroke-width="1"/>
<rect x="80.8" y="147.9" width="62.3" height="46.6" fill="#000000" stroke="none" stroke-width="1"/>
<rect x="144.6" y="147.9" width="62.70000000000002" height="46.6" fill="#0a000b" stroke="none" stroke-width="1"/>
<g>
<circle cx="28.3" cy="152.3" r="2.75" fill="url(#cb)"/>
<circle cx="55" cy="153.4" r="3.35" fill="url(#cm)"/>
<circle cx="62.2" cy="161" r="3.35" fill="url(#cm)"/>
<circle cx="50.5" cy="165" r="3.35" fill="url(#cp)"/>
<circle cx="58.2" cy="164.4" r="3.35" fill="url(#cb)"/>
<circle cx="74" cy="170.7" r="3.35" fill="url(#cp)"/>
<circle cx="21.3" cy="175.4" r="2.75" fill="url(#cp)"/>
<circle cx="26.2" cy="177.5" r="3.35" fill="url(#cm)"/>
<circle cx="32.1" cy="180.5" r="3.35" fill="url(#cb)"/>
<circle cx="23.2" cy="183" r="3.35" fill="url(#cp)"/>
<circle cx="47.4" cy="181.5" r="2.95" fill="url(#cb)"/>
<circle cx="65.5" cy="180.9" r="2.95" fill="url(#cb)"/>
<circle cx="31.2" cy="189" r="3.35" fill="url(#cb)"/>
<circle cx="59.4" cy="190.7" r="2.95" fill="url(#cb)"/>
<circle cx="85.6" cy="150.8" r="3.35" fill="url(#cm)"/>
<circle cx="113" cy="150.4" r="3.35" fill="url(#cm)"/>
<circle cx="117.7" cy="155.9" r="2.95" fill="url(#cb)"/>
<circle cx="138" cy="154.6" r="3.65" fill="url(#cb)"/>
<circle cx="87.2" cy="163.5" r="3.35" fill="url(#cm)"/>
<circle cx="94.2" cy="163.1" r="3.35" fill="url(#cb)"/>
<circle cx="106.7" cy="161.5" r="3.35" fill="url(#cm)"/>
<circle cx="94.2" cy="170.4" r="3.35" fill="url(#cm)"/>
<circle cx="106.7" cy="169.9" r="3.35" fill="url(#cp)"/>
<circle cx="123.7" cy="181.3" r="3.35" fill="url(#cp)"/>
<circle cx="94.2" cy="187.6" r="3.35" fill="url(#cb)"/>
<circle cx="114.9" cy="186.9" r="2.95" fill="url(#cm)"/>
<circle cx="105" cy="191.7" r="3.35" fill="url(#cm)"/>
<circle cx="141.8" cy="185.6" r="2.95" fill="url(#cp)"/>
<circle cx="135.5" cy="194" r="2.75" fill="url(#cb)"/>
<circle cx="156.6" cy="153.6" r="3.35" fill="url(#cm)"/>
<circle cx="184.5" cy="150.4" r="2.95" fill="url(#cb)"/>
<circle cx="189" cy="151.3" r="3.35" fill="url(#cp)"/>
<circle cx="184.9" cy="155.1" r="3.35" fill="url(#cb)"/>
<circle cx="168.9" cy="162.2" r="3.35" fill="url(#cb)"/>
<circle cx="163.8" cy="173.7" r="3.35" fill="url(#cb)"/>
<circle cx="171.4" cy="173.3" r="3.35" fill="url(#cb)"/>
<circle cx="179.4" cy="178.7" r="3.35" fill="url(#cp)"/>
<circle cx="193.1" cy="182.2" r="2.95" fill="url(#cb)"/>
<circle cx="166.7" cy="193.2" r="2.75" fill="url(#cb)"/>
</g>
<rect x="15.9" y="235.8" width="191.4" height="46.2" fill="#c0c0c0" stroke="none" stroke-width="1"/>
<rect x="15.9" y="235.8" width="63.300000000000004" height="46.2" fill="#05030f" stroke="none" stroke-width="1"/>
<rect x="80.8" y="235.8" width="62.3" height="46.2" fill="#030014" stroke="none" stroke-width="1"/>
<rect x="144.6" y="235.8" width="62.70000000000002" height="46.2" fill="#05030f" stroke="none" stroke-width="1"/>
<g>
<circle cx="43" cy="239.4" r="2.85" fill="url(#cv)"/>
<circle cx="52.9" cy="246.2" r="2.85" fill="url(#cb)"/>
<circle cx="73.1" cy="254" r="2.95" fill="url(#cv2)"/>
<circle cx="34.9" cy="260.3" r="2.85" fill="url(#cv)"/>
<circle cx="42.1" cy="259.9" r="3.35" fill="url(#cv2)"/>
<circle cx="21.7" cy="274.5" r="3.35" fill="url(#cv)"/>
<circle cx="85.4" cy="239.4" r="2.85" fill="url(#cb)"/>
<circle cx="99.9" cy="240.8" r="3.35" fill="url(#cv2)"/>
<circle cx="114.2" cy="236.7" r="3.15" fill="url(#cv2)"/>
<circle cx="135.4" cy="237.7" r="2.85" fill="url(#cv2)"/>
<circle cx="93.9" cy="247.9" r="3.35" fill="url(#cv2)"/>
<circle cx="139.4" cy="246.6" r="2.95" fill="url(#cb)"/>
<circle cx="139.4" cy="261" r="2.95" fill="url(#cb)"/>
<circle cx="108.4" cy="271.8" r="2.95" fill="url(#cv)"/>
<circle cx="127.7" cy="275.2" r="2.95" fill="url(#cm)"/>
<circle cx="134" cy="276.5" r="3.35" fill="url(#cv2)"/>
<circle cx="153.5" cy="239.4" r="2.35" fill="url(#cb)"/>
<circle cx="175.5" cy="250.9" r="2.95" fill="url(#cb)"/>
<circle cx="184.5" cy="249.5" r="3.35" fill="url(#cv2)"/>
<circle cx="188.2" cy="256" r="3.35" fill="url(#cv2)"/>
<circle cx="198" cy="252.9" r="2.95" fill="url(#cb)"/>
<circle cx="151.4" cy="262" r="2.95" fill="url(#cv)"/>
<circle cx="172.8" cy="273.8" r="2.95" fill="url(#cv)"/>
<circle cx="203.4" cy="270" r="3.35" fill="url(#cb)"/>
</g>
<rect x="15.9" y="322.7" width="191.4" height="46.2" fill="#ffffff" stroke="none" stroke-width="1"/>
<rect x="15.9" y="322.7" width="63.300000000000004" height="46.2" fill="#08000e" stroke="none" stroke-width="1"/>
<rect x="80.8" y="322.7" width="62.3" height="46.2" fill="#08000f" stroke="none" stroke-width="1"/>
<rect x="144.6" y="322.7" width="62.70000000000002" height="46.2" fill="#08000e" stroke="none" stroke-width="1"/>
<g>
<circle cx="23.2" cy="327.7" r="2.85" fill="url(#cv2)"/>
<circle cx="38.6" cy="325.8" r="2.85" fill="url(#cv2)"/>
<circle cx="51.5" cy="332.2" r="2.95" fill="url(#cv)"/>
<circle cx="23.7" cy="336.2" r="2.95" fill="url(#cv)"/>
<circle cx="20.1" cy="340.7" r="2.95" fill="url(#cv2)"/>
<circle cx="67.7" cy="338.5" r="2.35" fill="url(#cb)"/>
<circle cx="31.3" cy="352.8" r="2.95" fill="url(#cv)"/>
<circle cx="52.5" cy="352.4" r="3.0500000000000003" fill="url(#cv)"/>
<circle cx="46.7" cy="359.8" r="2.95" fill="url(#cv2)"/>
<circle cx="98.9" cy="323.4" r="2.35" fill="url(#cv)"/>
<circle cx="108.8" cy="326.1" r="3.35" fill="url(#cv)"/>
<circle cx="94.2" cy="334.2" r="2.85" fill="url(#cv2)"/>
<circle cx="87.4" cy="341" r="2.95" fill="url(#cv)"/>
<circle cx="94.5" cy="346.1" r="2.85" fill="url(#cv2)"/>
<circle cx="119.8" cy="344.3" r="3.35" fill="url(#cv)"/>
<circle cx="86.8" cy="359.6" r="3.35" fill="url(#cv)"/>
<circle cx="110.4" cy="365.2" r="3.35" fill="url(#cv2)"/>
<circle cx="116.5" cy="363.2" r="2.95" fill="url(#cv2)"/>
<circle cx="130.9" cy="364.6" r="3.35" fill="url(#cm)"/>
<circle cx="139.8" cy="362.3" r="2.35" fill="url(#cb)"/>
<circle cx="161.6" cy="331.5" r="2.85" fill="url(#cv2)"/>
<circle cx="167.6" cy="336.2" r="3.35" fill="url(#cv)"/>
<circle cx="185.5" cy="326.4" r="2.85" fill="url(#cv2)"/>
<circle cx="192.6" cy="324" r="2.85" fill="url(#cv2)"/>
<circle cx="196" cy="328.5" r="3.35" fill="url(#cv)"/>
<circle cx="204.8" cy="331.5" r="2.85" fill="url(#cb)"/>
<circle cx="203.8" cy="339.9" r="3.35" fill="url(#cv2)"/>
<circle cx="147.4" cy="349.7" r="2.85" fill="url(#cv)"/>
<circle cx="162" cy="349" r="2.85" fill="url(#cv2)"/>
<circle cx="174.7" cy="345.9" r="2.95" fill="url(#cv)"/>
<circle cx="175.7" cy="353.4" r="2.85" fill="url(#cb)"/>
<circle cx="201.7" cy="365.2" r="2.95" fill="url(#cv2)"/>
</g>
<text x="5.8" y="124.2" font-size="12" text-anchor="start" fill="#000" font-weight="bold" stroke="#000" stroke-width="0.35">B</text>
<text x="5.4" y="225.6" font-size="12" text-anchor="start" fill="#000" font-weight="bold" stroke="#000" stroke-width="0.35">C</text>
<text x="5.6" y="319.2" font-size="12" text-anchor="start" fill="#000" font-weight="bold" stroke="#000" stroke-width="0.35">D</text>
<text x="112.65" y="132.3" font-size="6.8" text-anchor="middle" fill="#333" font-weight="normal" stroke="#333" stroke-width="0.24" textLength="19.3" lengthAdjust="spacingAndGlyphs">E<tspan font-size="4.8" dy="1.1">μ</tspan><tspan dy="-1.1">Myc</tspan></text>
<line x1="17.4" y1="136.6" x2="205.6" y2="136.6" stroke="#555" stroke-width="1"/>
<text x="47.55" y="145.1" font-size="6.8" text-anchor="middle" fill="#333" font-weight="normal" stroke="#333" stroke-width="0.24" textLength="10.5" lengthAdjust="spacingAndGlyphs">WT</text>
<text x="110.8" y="145.1" font-size="6.8" text-anchor="middle" fill="#333" font-weight="normal" stroke="#333" stroke-width="0.24" textLength="23.8" lengthAdjust="spacingAndGlyphs">Parp2<tspan font-size="4.6" dy="-2.6">–/–</tspan></text>
<text x="174.15" y="145.1" font-size="6.8" text-anchor="middle" fill="#333" font-weight="normal" stroke="#333" stroke-width="0.24" textLength="23.5" lengthAdjust="spacingAndGlyphs">Parp1<tspan font-size="4.6" dy="-2.6">–/–</tspan></text>
<text x="11.2" y="169.7" font-size="6.8" text-anchor="middle" fill="#333" font-weight="normal" stroke="#333" stroke-width="0.24" textLength="20.6" lengthAdjust="spacingAndGlyphs" transform="rotate(-90 11.2 169.7)">RAD51</text>
<text x="11.2" y="256.5" font-size="6.8" text-anchor="middle" fill="#333" font-weight="normal" stroke="#333" stroke-width="0.24" textLength="18.2" lengthAdjust="spacingAndGlyphs" transform="rotate(-90 11.2 256.5)">53BP1</text>
<text x="11.2" y="344.2" font-size="6.8" text-anchor="middle" fill="#333" font-weight="normal" stroke="#333" stroke-width="0.24" textLength="16.4" lengthAdjust="spacingAndGlyphs" transform="rotate(-90 11.2 344.2)">pRPA</text>
<text x="288.0" y="112.5" font-size="7.2" text-anchor="middle" fill="#222" font-weight="normal" stroke="#222" stroke-width="0.24">RAD51</text>
<line x1="247.3" y1="138.3" x2="247.3" y2="195.1" stroke="#111" stroke-width="1.3"/>
<line x1="246.70000000000002" y1="194.5" x2="328.7" y2="194.5" stroke="#111" stroke-width="1.3"/>
<line x1="245.3" y1="138.3" x2="247.3" y2="138.3" stroke="#111" stroke-width="1"/>
<text x="244.10000000000002" y="140.5" font-size="6.3" text-anchor="end" fill="#333" font-weight="normal" stroke="#333" stroke-width="0.24">400</text>
<line x1="245.3" y1="152.4" x2="247.3" y2="152.4" stroke="#111" stroke-width="1"/>
<text x="244.10000000000002" y="154.6" font-size="6.3" text-anchor="end" fill="#333" font-weight="normal" stroke="#333" stroke-width="0.24">300</text>
<line x1="245.3" y1="166.4" x2="247.3" y2="166.4" stroke="#111" stroke-width="1"/>
<text x="244.10000000000002" y="168.6" font-size="6.3" text-anchor="end" fill="#333" font-weight="normal" stroke="#333" stroke-width="0.24">200</text>
<line x1="245.3" y1="180.5" x2="247.3" y2="180.5" stroke="#111" stroke-width="1"/>
<text x="244.10000000000002" y="182.7" font-size="6.3" text-anchor="end" fill="#333" font-weight="normal" stroke="#333" stroke-width="0.24">100</text>
<line x1="245.3" y1="194.5" x2="247.3" y2="194.5" stroke="#111" stroke-width="1"/>
<text x="244.10000000000002" y="196.7" font-size="6.3" text-anchor="end" fill="#333" font-weight="normal" stroke="#333" stroke-width="0.24">0</text>
<line x1="259.5" y1="194.5" x2="259.5" y2="196.5" stroke="#111" stroke-width="1"/>
<line x1="283.3" y1="194.5" x2="283.3" y2="196.5" stroke="#111" stroke-width="1"/>
<line x1="307.1" y1="194.5" x2="307.1" y2="196.5" stroke="#111" stroke-width="1"/>
<line x1="259.4" y1="120.5" x2="306.9" y2="120.5" stroke="#333" stroke-width="1.1"/>
<circle cx="280.25" cy="117.4" r="0.9" fill="#1a1a1a"/>
<circle cx="283.15" cy="117.4" r="0.9" fill="#1a1a1a"/>
<circle cx="286.05" cy="117.4" r="0.9" fill="#1a1a1a"/>
<line x1="259.4" y1="128.3" x2="282.9" y2="128.3" stroke="#333" stroke-width="1.1"/>
<circle cx="271.15" cy="124.8" r="0.9" fill="#1a1a1a"/>
<line x1="283.3" y1="136.6" x2="306.9" y2="136.6" stroke="#333" stroke-width="1.1"/>
<circle cx="292.20" cy="133.3" r="0.9" fill="#1a1a1a"/>
<circle cx="295.10" cy="133.3" r="0.9" fill="#1a1a1a"/>
<circle cx="298.00" cy="133.3" r="0.9" fill="#1a1a1a"/>
<path d="M257.30,154.30 L256.48,155.10 L254.35,155.90 L252.62,156.70 L252.99,157.50 L251.85,158.30 L251.79,159.10 L252.66,159.90 L252.00,160.70 L252.55,161.50 L251.72,162.30 L252.76,163.10 L252.30,163.90 L252.32,164.70 L251.98,165.50 L252.88,166.30 L252.82,167.10 L251.98,167.90 L252.92,168.70 L252.92,169.50 L251.75,170.30 L251.79,171.10 L252.12,171.90 L252.63,172.70 L252.17,173.50 L252.15,174.30 L252.48,175.10 L251.88,175.90 L252.31,176.70 L253.59,177.50 L254.69,178.30 L255.69,179.10 L256.32,179.90 L257.26,180.70 L262.23,180.70 L263.19,179.90 L263.07,179.10 L263.82,178.30 L265.26,177.50 L266.77,176.70 L267.37,175.90 L266.94,175.10 L267.10,174.30 L266.87,173.50 L266.49,172.70 L267.20,171.90 L267.03,171.10 L267.47,170.30 L267.52,169.50 L267.34,168.70 L267.15,167.90 L266.57,167.10 L267.63,166.30 L267.59,165.50 L266.50,164.70 L266.84,163.90 L266.90,163.10 L267.22,162.30 L267.40,161.50 L267.17,160.70 L266.55,159.90 L267.04,159.10 L266.49,158.30 L266.91,157.50 L267.06,156.70 L265.15,155.90 L263.49,155.10 L262.58,154.30 Z" fill="url(#cg2597_169)"/>
<path d="M257.30,154.30 L256.48,155.10 L254.35,155.90 L252.62,156.70 L252.99,157.50 L251.85,158.30 L251.79,159.10 L252.66,159.90 L252.00,160.70 L252.55,161.50 L251.72,162.30 L252.76,163.10 L252.30,163.90 L252.32,164.70 L251.98,165.50 L252.88,166.30 L252.82,167.10 L251.98,167.90 L252.92,168.70 L252.92,169.50 L251.75,170.30 L251.79,171.10 L252.12,171.90 L252.63,172.70 L252.17,173.50 L252.15,174.30 L252.48,175.10 L251.88,175.90 L252.31,176.70 L253.59,177.50 L254.69,178.30 L255.69,179.10 L256.32,179.90 L257.26,180.70 L262.23,180.70 L263.19,179.90 L263.07,179.10 L263.82,178.30 L265.26,177.50 L266.77,176.70 L267.37,175.90 L266.94,175.10 L267.10,174.30 L266.87,173.50 L266.49,172.70 L267.20,171.90 L267.03,171.10 L267.47,170.30 L267.52,169.50 L267.34,168.70 L267.15,167.90 L266.57,167.10 L267.63,166.30 L267.59,165.50 L266.50,164.70 L266.84,163.90 L266.90,163.10 L267.22,162.30 L267.40,161.50 L267.17,160.70 L266.55,159.90 L267.04,159.10 L266.49,158.30 L266.91,157.50 L267.06,156.70 L265.15,155.90 L263.49,155.10 L262.58,154.30 Z" fill="url(#swarm)"/>
<circle cx="259.52" cy="138.30" r="0.6" fill="#a8a8a8"/>
<circle cx="259.31" cy="140.08" r="0.6" fill="#a8a8a8"/>
<circle cx="260.24" cy="141.59" r="0.6" fill="#a8a8a8"/>
<circle cx="259.09" cy="143.96" r="0.6" fill="#a8a8a8"/>
<circle cx="259.98" cy="146.31" r="0.6" fill="#a8a8a8"/>
<circle cx="259.70" cy="147.87" r="0.6" fill="#a8a8a8"/>
<circle cx="260.00" cy="150.32" r="0.6" fill="#a8a8a8"/>
<circle cx="259.60" cy="152.74" r="0.6" fill="#a8a8a8"/>
<circle cx="258.62" cy="181.60" r="0.6" fill="#a8a8a8"/>
<circle cx="260.59" cy="183.00" r="0.6" fill="#a8a8a8"/>
<circle cx="259.87" cy="184.32" r="0.6" fill="#a8a8a8"/>
<circle cx="259.49" cy="185.22" r="0.6" fill="#a8a8a8"/>
<circle cx="259.29" cy="186.36" r="0.6" fill="#a8a8a8"/>
<circle cx="260.06" cy="187.60" r="0.6" fill="#a8a8a8"/>
<circle cx="258.40" cy="188.57" r="0.6" fill="#a8a8a8"/>
<circle cx="259.24" cy="190.36" r="0.6" fill="#a8a8a8"/>
<circle cx="260.05" cy="190.36" r="0.6" fill="#a8a8a8"/>
<circle cx="259.64" cy="190.36" r="0.6" fill="#a8a8a8"/>
<circle cx="259.22" cy="191.18" r="0.6" fill="#a8a8a8"/>
<circle cx="259.24" cy="191.18" r="0.6" fill="#a8a8a8"/>
<circle cx="258.89" cy="191.18" r="0.6" fill="#a8a8a8"/>
<circle cx="259.01" cy="192.08" r="0.6" fill="#a8a8a8"/>
<circle cx="259.44" cy="193.02" r="0.6" fill="#a8a8a8"/>
<line x1="252.2" y1="169.1" x2="267.2" y2="169.1" stroke="#1a1a1a" stroke-width="1.3"/>
<path d="M281.03,152.40 L280.04,153.20 L279.81,154.00 L278.17,154.80 L277.03,155.60 L275.58,156.40 L275.26,157.20 L275.93,158.00 L276.50,158.80 L275.26,159.60 L275.26,160.40 L276.15,161.20 L275.98,162.00 L276.28,162.80 L275.82,163.60 L275.64,164.40 L275.32,165.20 L276.14,166.00 L275.48,166.80 L276.20,167.60 L275.69,168.40 L275.46,169.20 L276.12,170.00 L276.37,170.80 L276.05,171.60 L275.45,172.40 L276.50,173.20 L275.93,174.00 L275.66,174.80 L276.12,175.60 L277.02,176.40 L278.49,177.20 L278.80,178.00 L280.50,178.80 L281.40,179.60 L281.16,180.40 L285.02,180.40 L285.25,179.60 L286.77,178.80 L286.81,178.00 L287.83,177.20 L289.54,176.40 L290.06,175.60 L290.18,174.80 L290.74,174.00 L291.09,173.20 L290.17,172.40 L290.95,171.60 L290.56,170.80 L290.02,170.00 L291.14,169.20 L291.14,168.40 L290.62,167.60 L290.00,166.80 L290.84,166.00 L290.26,165.20 L290.65,164.40 L290.27,163.60 L290.23,162.80 L290.24,162.00 L290.90,161.20 L290.69,160.40 L290.08,159.60 L290.04,158.80 L290.55,158.00 L290.53,157.20 L290.49,156.40 L289.82,155.60 L288.65,154.80 L286.92,154.00 L286.24,153.20 L284.37,152.40 Z" fill="url(#cg2832_168)"/>
<path d="M281.03,152.40 L280.04,153.20 L279.81,154.00 L278.17,154.80 L277.03,155.60 L275.58,156.40 L275.26,157.20 L275.93,158.00 L276.50,158.80 L275.26,159.60 L275.26,160.40 L276.15,161.20 L275.98,162.00 L276.28,162.80 L275.82,163.60 L275.64,164.40 L275.32,165.20 L276.14,166.00 L275.48,166.80 L276.20,167.60 L275.69,168.40 L275.46,169.20 L276.12,170.00 L276.37,170.80 L276.05,171.60 L275.45,172.40 L276.50,173.20 L275.93,174.00 L275.66,174.80 L276.12,175.60 L277.02,176.40 L278.49,177.20 L278.80,178.00 L280.50,178.80 L281.40,179.60 L281.16,180.40 L285.02,180.40 L285.25,179.60 L286.77,178.80 L286.81,178.00 L287.83,177.20 L289.54,176.40 L290.06,175.60 L290.18,174.80 L290.74,174.00 L291.09,173.20 L290.17,172.40 L290.95,171.60 L290.56,170.80 L290.02,170.00 L291.14,169.20 L291.14,168.40 L290.62,167.60 L290.00,166.80 L290.84,166.00 L290.26,165.20 L290.65,164.40 L290.27,163.60 L290.23,162.80 L290.24,162.00 L290.90,161.20 L290.69,160.40 L290.08,159.60 L290.04,158.80 L290.55,158.00 L290.53,157.20 L290.49,156.40 L289.82,155.60 L288.65,154.80 L286.92,154.00 L286.24,153.20 L284.37,152.40 Z" fill="url(#swarm)"/>
<circle cx="283.39" cy="150.00" r="0.6" fill="#a8a8a8"/>
<circle cx="283.07" cy="181.30" r="0.6" fill="#a8a8a8"/>
<circle cx="282.22" cy="182.71" r="0.6" fill="#a8a8a8"/>
<circle cx="282.96" cy="184.23" r="0.6" fill="#a8a8a8"/>
<circle cx="282.55" cy="185.46" r="0.6" fill="#a8a8a8"/>
<circle cx="283.82" cy="186.83" r="0.6" fill="#a8a8a8"/>
<circle cx="282.83" cy="187.66" r="0.6" fill="#a8a8a8"/>
<circle cx="283.96" cy="188.98" r="0.6" fill="#a8a8a8"/>
<circle cx="285.39" cy="190.68" r="0.6" fill="#a8a8a8"/>
<circle cx="285.30" cy="190.68" r="0.6" fill="#a8a8a8"/>
<circle cx="283.87" cy="192.04" r="0.6" fill="#a8a8a8"/>
<circle cx="283.85" cy="193.10" r="0.6" fill="#a8a8a8"/>
<line x1="275.7" y1="168.2" x2="290.7" y2="168.2" stroke="#1a1a1a" stroke-width="1.3"/>
<path d="M305.59,158.30 L305.23,159.10 L303.69,159.90 L303.54,160.70 L302.66,161.50 L302.59,162.30 L301.08,163.10 L300.48,163.90 L299.63,164.70 L299.56,165.50 L299.04,166.30 L299.69,167.10 L298.87,167.90 L299.38,168.70 L299.23,169.50 L299.09,170.30 L298.86,171.10 L299.56,171.90 L299.00,172.70 L298.94,173.50 L299.67,174.30 L299.58,175.10 L298.82,175.90 L298.92,176.70 L299.31,177.50 L298.92,178.30 L299.39,179.10 L299.58,179.90 L300.05,180.70 L300.86,181.50 L302.31,182.30 L302.51,183.10 L304.58,183.90 L304.14,184.70 L305.54,185.50 L309.27,185.50 L308.92,184.70 L309.68,183.90 L310.97,183.10 L312.09,182.30 L313.07,181.50 L313.22,180.70 L314.18,179.90 L314.94,179.10 L315.03,178.30 L315.10,177.50 L315.20,176.70 L314.91,175.90 L315.03,175.10 L314.91,174.30 L314.74,173.50 L314.26,172.70 L314.85,171.90 L314.46,171.10 L314.88,170.30 L314.79,169.50 L315.21,168.70 L314.38,167.90 L315.38,167.10 L314.41,166.30 L314.21,165.50 L314.36,164.70 L313.29,163.90 L312.01,163.10 L311.97,162.30 L310.89,161.50 L310.03,160.70 L310.38,159.90 L309.70,159.10 L308.47,158.30 Z" fill="url(#cg3069_173)"/>
<path d="M305.59,158.30 L305.23,159.10 L303.69,159.90 L303.54,160.70 L302.66,161.50 L302.59,162.30 L301.08,163.10 L300.48,163.90 L299.63,164.70 L299.56,165.50 L299.04,166.30 L299.69,167.10 L298.87,167.90 L299.38,168.70 L299.23,169.50 L299.09,170.30 L298.86,171.10 L299.56,171.90 L299.00,172.70 L298.94,173.50 L299.67,174.30 L299.58,175.10 L298.82,175.90 L298.92,176.70 L299.31,177.50 L298.92,178.30 L299.39,179.10 L299.58,179.90 L300.05,180.70 L300.86,181.50 L302.31,182.30 L302.51,183.10 L304.58,183.90 L304.14,184.70 L305.54,185.50 L309.27,185.50 L308.92,184.70 L309.68,183.90 L310.97,183.10 L312.09,182.30 L313.07,181.50 L313.22,180.70 L314.18,179.90 L314.94,179.10 L315.03,178.30 L315.10,177.50 L315.20,176.70 L314.91,175.90 L315.03,175.10 L314.91,174.30 L314.74,173.50 L314.26,172.70 L314.85,171.90 L314.46,171.10 L314.88,170.30 L314.79,169.50 L315.21,168.70 L314.38,167.90 L315.38,167.10 L314.41,166.30 L314.21,165.50 L314.36,164.70 L313.29,163.90 L312.01,163.10 L311.97,162.30 L310.89,161.50 L310.03,160.70 L310.38,159.90 L309.70,159.10 L308.47,158.30 Z" fill="url(#swarm)"/>
<circle cx="306.59" cy="138.30" r="0.6" fill="#a8a8a8"/>
<circle cx="307.11" cy="140.81" r="0.6" fill="#a8a8a8"/>
<circle cx="307.18" cy="142.25" r="0.6" fill="#a8a8a8"/>
<circle cx="306.42" cy="144.13" r="0.6" fill="#a8a8a8"/>
<circle cx="307.10" cy="146.48" r="0.6" fill="#a8a8a8"/>
<circle cx="307.19" cy="148.52" r="0.6" fill="#a8a8a8"/>
<circle cx="307.67" cy="150.02" r="0.6" fill="#a8a8a8"/>
<circle cx="306.26" cy="152.53" r="0.6" fill="#a8a8a8"/>
<circle cx="306.97" cy="154.50" r="0.6" fill="#a8a8a8"/>
<circle cx="306.65" cy="156.17" r="0.6" fill="#a8a8a8"/>
<circle cx="306.30" cy="157.65" r="0.6" fill="#a8a8a8"/>
<circle cx="307.65" cy="186.40" r="0.6" fill="#a8a8a8"/>
<circle cx="307.01" cy="187.35" r="0.6" fill="#a8a8a8"/>
<circle cx="307.45" cy="188.92" r="0.6" fill="#a8a8a8"/>
<circle cx="307.25" cy="189.95" r="0.6" fill="#a8a8a8"/>
<circle cx="306.67" cy="191.62" r="0.6" fill="#a8a8a8"/>
<circle cx="306.76" cy="192.82" r="0.6" fill="#a8a8a8"/>
<line x1="298.9" y1="173.5" x2="314.9" y2="173.5" stroke="#1a1a1a" stroke-width="1.3"/>
<text x="217.6" y="166.4" font-size="6.6" text-anchor="middle" fill="#333" font-weight="normal" stroke="#333" stroke-width="0.24" textLength="51" lengthAdjust="spacingAndGlyphs" transform="rotate(-90 217.6 166.4)">Fluorescence signal</text>
<text x="226.4" y="166.4" font-size="6.6" text-anchor="middle" fill="#333" font-weight="normal" stroke="#333" stroke-width="0.24" textLength="46.6" lengthAdjust="spacingAndGlyphs" transform="rotate(-90 226.4 166.4)">per nucleus (a.u.)</text>
<text x="283.1" y="212.7" font-size="7.2" text-anchor="middle" fill="#222" font-weight="normal" stroke="#222" stroke-width="0.24">53BP1</text>
<line x1="246.3" y1="238.3" x2="246.3" y2="288.20000000000005" stroke="#111" stroke-width="1.3"/>
<line x1="245.70000000000002" y1="287.6" x2="319.8" y2="287.6" stroke="#111" stroke-width="1.3"/>
<line x1="244.3" y1="238.3" x2="246.3" y2="238.3" stroke="#111" stroke-width="1"/>
<text x="243.10000000000002" y="240.5" font-size="6.3" text-anchor="end" fill="#333" font-weight="normal" stroke="#333" stroke-width="0.24">400</text>
<line x1="244.3" y1="250.6" x2="246.3" y2="250.6" stroke="#111" stroke-width="1"/>
<text x="243.10000000000002" y="252.79999999999998" font-size="6.3" text-anchor="end" fill="#333" font-weight="normal" stroke="#333" stroke-width="0.24">300</text>
<line x1="244.3" y1="262.9" x2="246.3" y2="262.9" stroke="#111" stroke-width="1"/>
<text x="243.10000000000002" y="265.09999999999997" font-size="6.3" text-anchor="end" fill="#333" font-weight="normal" stroke="#333" stroke-width="0.24">200</text>
<line x1="244.3" y1="275.3" x2="246.3" y2="275.3" stroke="#111" stroke-width="1"/>
<text x="243.10000000000002" y="277.5" font-size="6.3" text-anchor="end" fill="#333" font-weight="normal" stroke="#333" stroke-width="0.24">100</text>
<line x1="244.3" y1="287.6" x2="246.3" y2="287.6" stroke="#111" stroke-width="1"/>
<text x="243.10000000000002" y="289.8" font-size="6.3" text-anchor="end" fill="#333" font-weight="normal" stroke="#333" stroke-width="0.24">0</text>
<line x1="258.4" y1="287.6" x2="258.4" y2="289.6" stroke="#111" stroke-width="1"/>
<line x1="283.1" y1="287.6" x2="283.1" y2="289.6" stroke="#111" stroke-width="1"/>
<line x1="307.7" y1="287.6" x2="307.7" y2="289.6" stroke="#111" stroke-width="1"/>
<line x1="259.0" y1="221.9" x2="308.3" y2="221.9" stroke="#333" stroke-width="1.1"/>
<circle cx="283.65" cy="218.6" r="0.9" fill="#1a1a1a"/>
<line x1="259.0" y1="229.1" x2="283.6" y2="229.1" stroke="#333" stroke-width="1.1"/>
<circle cx="268.40" cy="225.6" r="0.9" fill="#1a1a1a"/>
<circle cx="271.30" cy="225.6" r="0.9" fill="#1a1a1a"/>
<circle cx="274.20" cy="225.6" r="0.9" fill="#1a1a1a"/>
<line x1="283.8" y1="236.1" x2="308.1" y2="236.1" stroke="#333" stroke-width="1.1"/>
<circle cx="293.05" cy="232.9" r="0.9" fill="#1a1a1a"/>
<circle cx="295.95" cy="232.9" r="0.9" fill="#1a1a1a"/>
<circle cx="298.85" cy="232.9" r="0.9" fill="#1a1a1a"/>
<path d="M256.44,255.00 L256.05,255.80 L254.88,256.60 L254.76,257.40 L253.82,258.20 L252.59,259.00 L251.97,259.80 L250.98,260.60 L250.94,261.40 L251.23,262.20 L251.78,263.00 L252.01,263.80 L251.17,264.60 L250.90,265.40 L251.03,266.20 L250.84,267.00 L251.29,267.80 L251.09,268.60 L250.83,269.40 L251.72,270.20 L251.56,271.00 L251.53,271.80 L251.68,272.60 L251.64,273.40 L251.48,274.20 L251.98,275.00 L251.53,275.80 L253.54,276.60 L254.05,277.40 L255.56,278.20 L255.50,279.00 L256.45,279.80 L257.60,280.60 L259.89,280.60 L260.44,279.80 L261.54,279.00 L262.90,278.20 L263.90,277.40 L264.77,276.60 L266.27,275.80 L266.36,275.00 L266.55,274.20 L265.96,273.40 L266.10,272.60 L266.59,271.80 L265.92,271.00 L265.61,270.20 L265.65,269.40 L266.38,268.60 L266.23,267.80 L265.98,267.00 L266.45,266.20 L266.19,265.40 L265.85,264.60 L265.68,263.80 L265.60,263.00 L265.58,262.20 L266.33,261.40 L266.77,260.60 L265.81,259.80 L264.33,259.00 L263.86,258.20 L263.44,257.40 L263.07,256.60 L262.03,255.80 L261.47,255.00 Z" fill="url(#cg2588_269)"/>
<path d="M256.44,255.00 L256.05,255.80 L254.88,256.60 L254.76,257.40 L253.82,258.20 L252.59,259.00 L251.97,259.80 L250.98,260.60 L250.94,261.40 L251.23,262.20 L251.78,263.00 L252.01,263.80 L251.17,264.60 L250.90,265.40 L251.03,266.20 L250.84,267.00 L251.29,267.80 L251.09,268.60 L250.83,269.40 L251.72,270.20 L251.56,271.00 L251.53,271.80 L251.68,272.60 L251.64,273.40 L251.48,274.20 L251.98,275.00 L251.53,275.80 L253.54,276.60 L254.05,277.40 L255.56,278.20 L255.50,279.00 L256.45,279.80 L257.60,280.60 L259.89,280.60 L260.44,279.80 L261.54,279.00 L262.90,278.20 L263.90,277.40 L264.77,276.60 L266.27,275.80 L266.36,275.00 L266.55,274.20 L265.96,273.40 L266.10,272.60 L266.59,271.80 L265.92,271.00 L265.61,270.20 L265.65,269.40 L266.38,268.60 L266.23,267.80 L265.98,267.00 L266.45,266.20 L266.19,265.40 L265.85,264.60 L265.68,263.80 L265.60,263.00 L265.58,262.20 L266.33,261.40 L266.77,260.60 L265.81,259.80 L264.33,259.00 L263.86,258.20 L263.44,257.40 L263.07,256.60 L262.03,255.80 L261.47,255.00 Z" fill="url(#swarm)"/>
<circle cx="258.88" cy="242.20" r="0.6" fill="#a8a8a8"/>
<circle cx="258.62" cy="244.51" r="0.6" fill="#a8a8a8"/>
<circle cx="258.51" cy="246.28" r="0.6" fill="#a8a8a8"/>
<circle cx="258.40" cy="248.53" r="0.6" fill="#a8a8a8"/>
<circle cx="259.25" cy="251.00" r="0.6" fill="#a8a8a8"/>
<circle cx="259.50" cy="253.51" r="0.6" fill="#a8a8a8"/>
<circle cx="259.22" cy="281.50" r="0.6" fill="#a8a8a8"/>
<circle cx="259.36" cy="282.91" r="0.6" fill="#a8a8a8"/>
<circle cx="259.10" cy="283.85" r="0.6" fill="#a8a8a8"/>
<circle cx="258.87" cy="286.37" r="0.6" fill="#a8a8a8"/>
<line x1="251.3" y1="269.2" x2="266.3" y2="269.2" stroke="#1a1a1a" stroke-width="1.3"/>
<path d="M280.81,247.10 L279.93,247.90 L278.48,248.70 L277.76,249.50 L276.70,250.30 L276.11,251.10 L274.95,251.90 L275.95,252.70 L274.98,253.50 L275.26,254.30 L275.38,255.10 L275.94,255.90 L274.93,256.70 L275.34,257.50 L275.69,258.30 L275.38,259.10 L276.02,259.90 L274.90,260.70 L275.65,261.50 L276.01,262.30 L275.68,263.10 L275.53,263.90 L275.74,264.70 L275.26,265.50 L275.63,266.30 L275.77,267.10 L275.28,267.90 L275.81,268.70 L275.86,269.50 L276.04,270.30 L274.82,271.10 L274.86,271.90 L275.82,272.70 L277.16,273.50 L277.91,274.30 L278.75,275.10 L280.47,275.90 L281.14,276.70 L285.11,276.70 L286.86,275.90 L286.92,275.10 L289.06,274.30 L289.34,273.50 L291.79,272.70 L291.32,271.90 L290.63,271.10 L291.32,270.30 L290.85,269.50 L291.55,268.70 L291.21,267.90 L291.65,267.10 L291.32,266.30 L291.33,265.50 L290.84,264.70 L290.99,263.90 L291.04,263.10 L290.55,262.30 L290.96,261.50 L291.58,260.70 L290.58,259.90 L291.54,259.10 L291.40,258.30 L291.47,257.50 L290.67,256.70 L291.54,255.90 L291.02,255.10 L290.65,254.30 L291.36,253.50 L291.07,252.70 L290.51,251.90 L290.41,251.10 L289.34,250.30 L288.55,249.50 L288.05,248.70 L286.81,247.90 L284.92,247.10 Z" fill="url(#cg2833_264)"/>
<path d="M280.81,247.10 L279.93,247.90 L278.48,248.70 L277.76,249.50 L276.70,250.30 L276.11,251.10 L274.95,251.90 L275.95,252.70 L274.98,253.50 L275.26,254.30 L275.38,255.10 L275.94,255.90 L274.93,256.70 L275.34,257.50 L275.69,258.30 L275.38,259.10 L276.02,259.90 L274.90,260.70 L275.65,261.50 L276.01,262.30 L275.68,263.10 L275.53,263.90 L275.74,264.70 L275.26,265.50 L275.63,266.30 L275.77,267.10 L275.28,267.90 L275.81,268.70 L275.86,269.50 L276.04,270.30 L274.82,271.10 L274.86,271.90 L275.82,272.70 L277.16,273.50 L277.91,274.30 L278.75,275.10 L280.47,275.90 L281.14,276.70 L285.11,276.70 L286.86,275.90 L286.92,275.10 L289.06,274.30 L289.34,273.50 L291.79,272.70 L291.32,271.90 L290.63,271.10 L291.32,270.30 L290.85,269.50 L291.55,268.70 L291.21,267.90 L291.65,267.10 L291.32,266.30 L291.33,265.50 L290.84,264.70 L290.99,263.90 L291.04,263.10 L290.55,262.30 L290.96,261.50 L291.58,260.70 L290.58,259.90 L291.54,259.10 L291.40,258.30 L291.47,257.50 L290.67,256.70 L291.54,255.90 L291.02,255.10 L290.65,254.30 L291.36,253.50 L291.07,252.70 L290.51,251.90 L290.41,251.10 L289.34,250.30 L288.55,249.50 L288.05,248.70 L286.81,247.90 L284.92,247.10 Z" fill="url(#swarm)"/>
<circle cx="283.62" cy="241.50" r="0.6" fill="#a8a8a8"/>
<circle cx="283.21" cy="243.69" r="0.6" fill="#a8a8a8"/>
<circle cx="284.32" cy="246.22" r="0.6" fill="#a8a8a8"/>
<circle cx="281.93" cy="277.60" r="0.6" fill="#a8a8a8"/>
<circle cx="282.98" cy="279.14" r="0.6" fill="#a8a8a8"/>
<circle cx="283.65" cy="280.12" r="0.6" fill="#a8a8a8"/>
<circle cx="283.86" cy="281.31" r="0.6" fill="#a8a8a8"/>
<circle cx="283.82" cy="282.78" r="0.6" fill="#a8a8a8"/>
<circle cx="281.41" cy="283.90" r="0.6" fill="#a8a8a8"/>
<circle cx="281.94" cy="283.90" r="0.6" fill="#a8a8a8"/>
<circle cx="284.12" cy="285.21" r="0.6" fill="#a8a8a8"/>
<circle cx="282.42" cy="285.21" r="0.6" fill="#a8a8a8"/>
<circle cx="282.10" cy="285.21" r="0.6" fill="#a8a8a8"/>
<circle cx="280.88" cy="286.20" r="0.6" fill="#a8a8a8"/>
<circle cx="282.28" cy="286.20" r="0.6" fill="#a8a8a8"/>
<circle cx="284.52" cy="286.20" r="0.6" fill="#a8a8a8"/>
<line x1="275.3" y1="264.4" x2="291.3" y2="264.4" stroke="#1a1a1a" stroke-width="1.3"/>
<path d="M305.41,253.10 L304.72,253.90 L304.47,254.70 L303.44,255.50 L301.39,256.30 L300.68,257.10 L300.68,257.90 L300.12,258.70 L300.35,259.50 L299.81,260.30 L299.02,261.10 L299.50,261.90 L300.20,262.70 L299.29,263.50 L299.15,264.30 L299.93,265.10 L299.31,265.90 L299.59,266.70 L300.14,267.50 L299.65,268.30 L299.21,269.10 L300.26,269.90 L300.12,270.70 L299.77,271.50 L299.62,272.30 L300.42,273.10 L300.92,273.90 L301.82,274.70 L303.44,275.50 L304.53,276.30 L304.21,277.10 L305.70,277.90 L305.86,278.70 L305.89,279.50 L309.27,279.50 L309.71,278.70 L310.34,277.90 L310.39,277.10 L311.60,276.30 L311.49,275.50 L312.67,274.70 L313.82,273.90 L314.34,273.10 L314.74,272.30 L314.80,271.50 L315.04,270.70 L315.04,269.90 L315.42,269.10 L314.86,268.30 L315.87,267.50 L315.45,266.70 L315.58,265.90 L315.21,265.10 L315.38,264.30 L315.39,263.50 L315.37,262.70 L315.29,261.90 L315.65,261.10 L315.15,260.30 L314.43,259.50 L314.67,258.70 L314.44,257.90 L313.33,257.10 L313.14,256.30 L312.68,255.50 L310.53,254.70 L310.08,253.90 L309.74,253.10 Z" fill="url(#cg3075_269)"/>
<path d="M305.41,253.10 L304.72,253.90 L304.47,254.70 L303.44,255.50 L301.39,256.30 L300.68,257.10 L300.68,257.90 L300.12,258.70 L300.35,259.50 L299.81,260.30 L299.02,261.10 L299.50,261.90 L300.20,262.70 L299.29,263.50 L299.15,264.30 L299.93,265.10 L299.31,265.90 L299.59,266.70 L300.14,267.50 L299.65,268.30 L299.21,269.10 L300.26,269.90 L300.12,270.70 L299.77,271.50 L299.62,272.30 L300.42,273.10 L300.92,273.90 L301.82,274.70 L303.44,275.50 L304.53,276.30 L304.21,277.10 L305.70,277.90 L305.86,278.70 L305.89,279.50 L309.27,279.50 L309.71,278.70 L310.34,277.90 L310.39,277.10 L311.60,276.30 L311.49,275.50 L312.67,274.70 L313.82,273.90 L314.34,273.10 L314.74,272.30 L314.80,271.50 L315.04,270.70 L315.04,269.90 L315.42,269.10 L314.86,268.30 L315.87,267.50 L315.45,266.70 L315.58,265.90 L315.21,265.10 L315.38,264.30 L315.39,263.50 L315.37,262.70 L315.29,261.90 L315.65,261.10 L315.15,260.30 L314.43,259.50 L314.67,258.70 L314.44,257.90 L313.33,257.10 L313.14,256.30 L312.68,255.50 L310.53,254.70 L310.08,253.90 L309.74,253.10 Z" fill="url(#swarm)"/>
<circle cx="307.38" cy="239.50" r="0.6" fill="#a8a8a8"/>
<circle cx="307.03" cy="241.80" r="0.6" fill="#a8a8a8"/>
<circle cx="307.09" cy="243.79" r="0.6" fill="#a8a8a8"/>
<circle cx="307.13" cy="245.15" r="0.6" fill="#a8a8a8"/>
<circle cx="307.32" cy="246.72" r="0.6" fill="#a8a8a8"/>
<circle cx="306.76" cy="248.84" r="0.6" fill="#a8a8a8"/>
<circle cx="307.42" cy="251.10" r="0.6" fill="#a8a8a8"/>
<circle cx="306.92" cy="252.53" r="0.6" fill="#a8a8a8"/>
<circle cx="308.55" cy="280.40" r="0.6" fill="#a8a8a8"/>
<circle cx="307.09" cy="281.33" r="0.6" fill="#a8a8a8"/>
<circle cx="310.42" cy="282.77" r="0.6" fill="#a8a8a8"/>
<circle cx="307.35" cy="282.77" r="0.6" fill="#a8a8a8"/>
<circle cx="307.55" cy="282.77" r="0.6" fill="#a8a8a8"/>
<circle cx="311.08" cy="284.14" r="0.6" fill="#a8a8a8"/>
<circle cx="306.90" cy="284.14" r="0.6" fill="#a8a8a8"/>
<circle cx="305.35" cy="284.14" r="0.6" fill="#a8a8a8"/>
<circle cx="308.67" cy="284.14" r="0.6" fill="#a8a8a8"/>
<circle cx="306.70" cy="284.14" r="0.6" fill="#a8a8a8"/>
<circle cx="307.18" cy="284.14" r="0.6" fill="#a8a8a8"/>
<circle cx="304.38" cy="285.01" r="0.6" fill="#a8a8a8"/>
<circle cx="311.76" cy="285.01" r="0.6" fill="#a8a8a8"/>
<circle cx="309.75" cy="285.01" r="0.6" fill="#a8a8a8"/>
<circle cx="302.06" cy="285.01" r="0.6" fill="#a8a8a8"/>
<circle cx="302.98" cy="285.01" r="0.6" fill="#a8a8a8"/>
<circle cx="302.44" cy="285.01" r="0.6" fill="#a8a8a8"/>
<circle cx="308.58" cy="286.74" r="0.6" fill="#a8a8a8"/>
<circle cx="307.75" cy="286.74" r="0.6" fill="#a8a8a8"/>
<circle cx="305.63" cy="286.74" r="0.6" fill="#a8a8a8"/>
<line x1="299.5" y1="269.2" x2="315.5" y2="269.2" stroke="#1a1a1a" stroke-width="1.3"/>
<text x="216.3" y="262.95000000000005" font-size="6.6" text-anchor="middle" fill="#333" font-weight="normal" stroke="#333" stroke-width="0.24" textLength="51" lengthAdjust="spacingAndGlyphs" transform="rotate(-90 216.3 262.95000000000005)">Fluorescence signal</text>
<text x="225.10000000000002" y="262.95000000000005" font-size="6.6" text-anchor="middle" fill="#333" font-weight="normal" stroke="#333" stroke-width="0.24" textLength="46.6" lengthAdjust="spacingAndGlyphs" transform="rotate(-90 225.10000000000002 262.95000000000005)">per nucleus (a.u.)</text>
<text x="283.3" y="309.1" font-size="7.2" text-anchor="middle" fill="#222" font-weight="normal" stroke="#222" stroke-width="0.24">pRPA</text>
<line x1="246.5" y1="322.3" x2="246.5" y2="371.1" stroke="#111" stroke-width="1.3"/>
<line x1="245.9" y1="370.5" x2="319.9" y2="370.5" stroke="#111" stroke-width="1.3"/>
<line x1="244.5" y1="322.3" x2="246.5" y2="322.3" stroke="#111" stroke-width="1"/>
<text x="243.3" y="324.5" font-size="6.3" text-anchor="end" fill="#333" font-weight="normal" stroke="#333" stroke-width="0.24">30</text>
<line x1="244.5" y1="338.3" x2="246.5" y2="338.3" stroke="#111" stroke-width="1"/>
<text x="243.3" y="340.5" font-size="6.3" text-anchor="end" fill="#333" font-weight="normal" stroke="#333" stroke-width="0.24">20</text>
<line x1="244.5" y1="354.4" x2="246.5" y2="354.4" stroke="#111" stroke-width="1"/>
<text x="243.3" y="356.59999999999997" font-size="6.3" text-anchor="end" fill="#333" font-weight="normal" stroke="#333" stroke-width="0.24">10</text>
<line x1="244.5" y1="370.5" x2="246.5" y2="370.5" stroke="#111" stroke-width="1"/>
<text x="243.3" y="372.7" font-size="6.3" text-anchor="end" fill="#333" font-weight="normal" stroke="#333" stroke-width="0.24">0</text>
<line x1="258.3" y1="370.5" x2="258.3" y2="372.5" stroke="#111" stroke-width="1"/>
<line x1="283.0" y1="370.5" x2="283.0" y2="372.5" stroke="#111" stroke-width="1"/>
<line x1="307.1" y1="370.5" x2="307.1" y2="372.5" stroke="#111" stroke-width="1"/>
<line x1="258.5" y1="319.0" x2="282.9" y2="319.0" stroke="#333" stroke-width="1.1"/>
<circle cx="267.80" cy="315.6" r="0.9" fill="#1a1a1a"/>
<circle cx="270.70" cy="315.6" r="0.9" fill="#1a1a1a"/>
<circle cx="273.60" cy="315.6" r="0.9" fill="#1a1a1a"/>
<line x1="282.9" y1="325.9" x2="307.2" y2="325.9" stroke="#333" stroke-width="1.1"/>
<circle cx="292.15" cy="322.7" r="0.9" fill="#1a1a1a"/>
<circle cx="295.05" cy="322.7" r="0.9" fill="#1a1a1a"/>
<circle cx="297.95" cy="322.7" r="0.9" fill="#1a1a1a"/>
<path d="M256.21,346.20 L255.32,347.00 L253.00,347.80 L252.30,348.60 L250.51,349.40 L250.95,350.20 L250.27,351.00 L250.36,351.80 L250.45,352.60 L250.50,353.40 L250.10,354.20 L250.87,355.00 L251.33,355.80 L250.48,356.60 L251.40,357.40 L251.37,358.20 L250.77,359.00 L250.61,359.80 L250.62,360.60 L251.56,361.40 L253.06,362.20 L254.47,363.00 L255.61,363.80 L256.29,364.60 L260.98,364.60 L260.97,363.80 L263.17,363.00 L264.54,362.20 L264.80,361.40 L266.15,360.60 L265.53,359.80 L266.57,359.00 L266.04,358.20 L265.99,357.40 L266.43,356.60 L265.52,355.80 L265.48,355.00 L265.75,354.20 L265.69,353.40 L265.79,352.60 L266.07,351.80 L266.01,351.00 L265.52,350.20 L265.33,349.40 L264.84,348.60 L263.48,347.80 L262.30,347.00 L261.35,346.20 Z" fill="url(#cg2584_357)"/>
<path d="M256.21,346.20 L255.32,347.00 L253.00,347.80 L252.30,348.60 L250.51,349.40 L250.95,350.20 L250.27,351.00 L250.36,351.80 L250.45,352.60 L250.50,353.40 L250.10,354.20 L250.87,355.00 L251.33,355.80 L250.48,356.60 L251.40,357.40 L251.37,358.20 L250.77,359.00 L250.61,359.80 L250.62,360.60 L251.56,361.40 L253.06,362.20 L254.47,363.00 L255.61,363.80 L256.29,364.60 L260.98,364.60 L260.97,363.80 L263.17,363.00 L264.54,362.20 L264.80,361.40 L266.15,360.60 L265.53,359.80 L266.57,359.00 L266.04,358.20 L265.99,357.40 L266.43,356.60 L265.52,355.80 L265.48,355.00 L265.75,354.20 L265.69,353.40 L265.79,352.60 L266.07,351.80 L266.01,351.00 L265.52,350.20 L265.33,349.40 L264.84,348.60 L263.48,347.80 L262.30,347.00 L261.35,346.20 Z" fill="url(#swarm)"/>
<circle cx="258.65" cy="327.00" r="0.6" fill="#a8a8a8"/>
<circle cx="258.44" cy="328.30" r="0.6" fill="#a8a8a8"/>
<circle cx="258.35" cy="330.56" r="0.6" fill="#a8a8a8"/>
<circle cx="257.89" cy="332.28" r="0.6" fill="#a8a8a8"/>
<circle cx="258.12" cy="334.32" r="0.6" fill="#a8a8a8"/>
<circle cx="258.16" cy="336.47" r="0.6" fill="#a8a8a8"/>
<circle cx="257.93" cy="337.95" r="0.6" fill="#a8a8a8"/>
<circle cx="258.45" cy="340.32" r="0.6" fill="#a8a8a8"/>
<circle cx="258.88" cy="342.65" r="0.6" fill="#a8a8a8"/>
<circle cx="258.51" cy="343.65" r="0.6" fill="#a8a8a8"/>
<circle cx="258.98" cy="345.37" r="0.6" fill="#a8a8a8"/>
<circle cx="258.46" cy="365.50" r="0.6" fill="#a8a8a8"/>
<circle cx="257.22" cy="366.56" r="0.6" fill="#a8a8a8"/>
<circle cx="259.16" cy="367.93" r="0.6" fill="#a8a8a8"/>
<circle cx="257.44" cy="369.42" r="0.6" fill="#a8a8a8"/>
<line x1="250.59999999999997" y1="357.1" x2="266.2" y2="357.1" stroke="#1a1a1a" stroke-width="1.3"/>
<path d="M281.34,342.40 L279.83,343.20 L277.74,344.00 L276.92,344.80 L275.18,345.60 L274.77,346.40 L274.90,347.20 L274.96,348.00 L274.72,348.80 L274.88,349.60 L274.69,350.40 L275.28,351.20 L274.39,352.00 L275.02,352.80 L274.10,353.60 L274.90,354.40 L275.32,355.20 L274.45,356.00 L274.26,356.80 L274.95,357.60 L274.56,358.40 L274.70,359.20 L276.12,360.00 L277.76,360.80 L279.54,361.60 L280.13,362.40 L281.14,363.20 L285.19,363.20 L285.58,362.40 L285.78,361.60 L286.78,360.80 L288.83,360.00 L290.29,359.20 L290.24,358.40 L291.09,357.60 L290.85,356.80 L290.23,356.00 L290.39,355.20 L289.84,354.40 L290.52,353.60 L290.07,352.80 L290.57,352.00 L290.28,351.20 L290.97,350.40 L290.48,349.60 L290.38,348.80 L290.88,348.00 L290.83,347.20 L289.75,346.40 L289.22,345.60 L288.37,344.80 L286.90,344.00 L285.41,343.20 L284.25,342.40 Z" fill="url(#cg2826_355)"/>
<path d="M281.34,342.40 L279.83,343.20 L277.74,344.00 L276.92,344.80 L275.18,345.60 L274.77,346.40 L274.90,347.20 L274.96,348.00 L274.72,348.80 L274.88,349.60 L274.69,350.40 L275.28,351.20 L274.39,352.00 L275.02,352.80 L274.10,353.60 L274.90,354.40 L275.32,355.20 L274.45,356.00 L274.26,356.80 L274.95,357.60 L274.56,358.40 L274.70,359.20 L276.12,360.00 L277.76,360.80 L279.54,361.60 L280.13,362.40 L281.14,363.20 L285.19,363.20 L285.58,362.40 L285.78,361.60 L286.78,360.80 L288.83,360.00 L290.29,359.20 L290.24,358.40 L291.09,357.60 L290.85,356.80 L290.23,356.00 L290.39,355.20 L289.84,354.40 L290.52,353.60 L290.07,352.80 L290.57,352.00 L290.28,351.20 L290.97,350.40 L290.48,349.60 L290.38,348.80 L290.88,348.00 L290.83,347.20 L289.75,346.40 L289.22,345.60 L288.37,344.80 L286.90,344.00 L285.41,343.20 L284.25,342.40 Z" fill="url(#swarm)"/>
<circle cx="282.88" cy="335.20" r="0.6" fill="#a8a8a8"/>
<circle cx="282.89" cy="337.17" r="0.6" fill="#a8a8a8"/>
<circle cx="282.19" cy="338.93" r="0.6" fill="#a8a8a8"/>
<circle cx="281.96" cy="340.93" r="0.6" fill="#a8a8a8"/>
<circle cx="282.85" cy="364.10" r="0.6" fill="#a8a8a8"/>
<circle cx="283.40" cy="364.99" r="0.6" fill="#a8a8a8"/>
<circle cx="281.64" cy="366.39" r="0.6" fill="#a8a8a8"/>
<circle cx="280.56" cy="368.09" r="0.6" fill="#a8a8a8"/>
<circle cx="281.38" cy="368.09" r="0.6" fill="#a8a8a8"/>
<circle cx="279.10" cy="368.09" r="0.6" fill="#a8a8a8"/>
<circle cx="283.28" cy="368.09" r="0.6" fill="#a8a8a8"/>
<circle cx="283.22" cy="369.03" r="0.6" fill="#a8a8a8"/>
<circle cx="278.56" cy="369.03" r="0.6" fill="#a8a8a8"/>
<circle cx="284.68" cy="369.03" r="0.6" fill="#a8a8a8"/>
<circle cx="283.57" cy="369.03" r="0.6" fill="#a8a8a8"/>
<circle cx="287.21" cy="369.03" r="0.6" fill="#a8a8a8"/>
<circle cx="283.83" cy="370.01" r="0.6" fill="#a8a8a8"/>
<circle cx="282.56" cy="370.01" r="0.6" fill="#a8a8a8"/>
<line x1="274.6" y1="355.3" x2="290.6" y2="355.3" stroke="#1a1a1a" stroke-width="1.3"/>
<path d="M305.87,345.60 L305.06,346.40 L303.29,347.20 L302.28,348.00 L300.54,348.80 L299.24,349.60 L299.50,350.40 L299.33,351.20 L299.08,352.00 L299.14,352.80 L299.04,353.60 L298.72,354.40 L299.65,355.20 L299.21,356.00 L298.92,356.80 L299.17,357.60 L298.66,358.40 L299.73,359.20 L298.61,360.00 L300.91,360.80 L302.15,361.60 L302.71,362.40 L304.28,363.20 L305.21,364.00 L306.16,364.80 L309.04,364.80 L309.38,364.00 L310.31,363.20 L310.79,362.40 L312.67,361.60 L314.61,360.80 L315.05,360.00 L314.72,359.20 L314.94,358.40 L315.08,357.60 L315.91,356.80 L315.49,356.00 L314.98,355.20 L315.22,354.40 L315.57,353.60 L315.22,352.80 L315.95,352.00 L315.14,351.20 L315.32,350.40 L315.82,349.60 L314.65,348.80 L311.83,348.00 L310.96,347.20 L310.07,346.40 L309.27,345.60 Z" fill="url(#cg3073_357)"/>
<path d="M305.87,345.60 L305.06,346.40 L303.29,347.20 L302.28,348.00 L300.54,348.80 L299.24,349.60 L299.50,350.40 L299.33,351.20 L299.08,352.00 L299.14,352.80 L299.04,353.60 L298.72,354.40 L299.65,355.20 L299.21,356.00 L298.92,356.80 L299.17,357.60 L298.66,358.40 L299.73,359.20 L298.61,360.00 L300.91,360.80 L302.15,361.60 L302.71,362.40 L304.28,363.20 L305.21,364.00 L306.16,364.80 L309.04,364.80 L309.38,364.00 L310.31,363.20 L310.79,362.40 L312.67,361.60 L314.61,360.80 L315.05,360.00 L314.72,359.20 L314.94,358.40 L315.08,357.60 L315.91,356.80 L315.49,356.00 L314.98,355.20 L315.22,354.40 L315.57,353.60 L315.22,352.80 L315.95,352.00 L315.14,351.20 L315.32,350.40 L315.82,349.60 L314.65,348.80 L311.83,348.00 L310.96,347.20 L310.07,346.40 L309.27,345.60 Z" fill="url(#swarm)"/>
<circle cx="307.19" cy="344.00" r="0.6" fill="#a8a8a8"/>
<circle cx="306.59" cy="365.70" r="0.6" fill="#a8a8a8"/>
<circle cx="308.24" cy="367.12" r="0.6" fill="#a8a8a8"/>
<circle cx="307.71" cy="368.45" r="0.6" fill="#a8a8a8"/>
<circle cx="308.97" cy="368.45" r="0.6" fill="#a8a8a8"/>
<circle cx="308.05" cy="369.65" r="0.6" fill="#a8a8a8"/>
<circle cx="307.71" cy="369.65" r="0.6" fill="#a8a8a8"/>
<line x1="299.1" y1="357.1" x2="315.5" y2="357.1" stroke="#1a1a1a" stroke-width="1.3"/>
<text x="219.6" y="346.4" font-size="6.6" text-anchor="middle" fill="#333" font-weight="normal" stroke="#333" stroke-width="0.24" textLength="51" lengthAdjust="spacingAndGlyphs" transform="rotate(-90 219.6 346.4)">Fluorescence signal</text>
<text x="228.4" y="346.4" font-size="6.6" text-anchor="middle" fill="#333" font-weight="normal" stroke="#333" stroke-width="0.24" textLength="46.6" lengthAdjust="spacingAndGlyphs" transform="rotate(-90 228.4 346.4)">per nucleus (a.u.)</text>
<text x="258.4" y="381.3" font-size="6.8" text-anchor="middle" fill="#222" font-weight="normal" stroke="#222" stroke-width="0.24" textLength="10.2" lengthAdjust="spacingAndGlyphs">WT</text>
<text x="282.6" y="381.3" font-size="6.8" text-anchor="middle" fill="#222" font-weight="normal" stroke="#222" stroke-width="0.24" textLength="24" lengthAdjust="spacingAndGlyphs">Parp2<tspan font-size="4.6" dy="-2.6">–/–</tspan></text>
<text x="310.5" y="381.3" font-size="6.8" text-anchor="middle" fill="#222" font-weight="normal" stroke="#222" stroke-width="0.24" textLength="24" lengthAdjust="spacingAndGlyphs">Parp1<tspan font-size="4.6" dy="-2.6">–/–</tspan></text>
<line x1="246.2" y1="384.9" x2="321.2" y2="384.9" stroke="#222" stroke-width="1.2"/>
<text x="283.5" y="393.6" font-size="6.8" text-anchor="middle" fill="#222" font-weight="normal" stroke="#222" stroke-width="0.24" textLength="18.3" lengthAdjust="spacingAndGlyphs">E<tspan font-size="4.8" dy="1.1">μ</tspan><tspan dy="-1.1">Myc</tspan></text>
<text x="335.5" y="124.5" font-size="12" text-anchor="start" fill="#000" font-weight="bold" stroke="#000" stroke-width="0.35">G</text>
<text x="425.4" y="124.3" font-size="12" text-anchor="start" fill="#000" font-weight="bold" stroke="#000" stroke-width="0.35">H</text>
<rect x="348.2" y="136.8" width="55.400000000000034" height="56.19999999999999" fill="#eeecdf" stroke="none" stroke-width="1"/>
<text x="348.8" y="138.85000000000002" font-size="2.6" text-anchor="start" fill="#1a1a1a" font-weight="bold" textLength="54.5" lengthAdjust="spacingAndGlyphs">Enrichment plot: REACTOME_DNA_REPLICATION</text>
<rect x="354.4" y="139.4" width="47.0" height="22.299999999999983" fill="#ffffff" stroke="#c8c8c8" stroke-width="0.3"/>
<line x1="360.275" y1="139.4" x2="360.275" y2="161.7" stroke="#e6e6e6" stroke-width="0.3"/>
<line x1="366.15" y1="139.4" x2="366.15" y2="161.7" stroke="#e6e6e6" stroke-width="0.3"/>
<line x1="372.025" y1="139.4" x2="372.025" y2="161.7" stroke="#e6e6e6" stroke-width="0.3"/>
<line x1="377.9" y1="139.4" x2="377.9" y2="161.7" stroke="#e6e6e6" stroke-width="0.3"/>
<line x1="383.775" y1="139.4" x2="383.775" y2="161.7" stroke="#e6e6e6" stroke-width="0.3"/>
<line x1="389.65" y1="139.4" x2="389.65" y2="161.7" stroke="#e6e6e6" stroke-width="0.3"/>
<line x1="395.525" y1="139.4" x2="395.525" y2="161.7" stroke="#e6e6e6" stroke-width="0.3"/>
<line x1="354.4" y1="142.1875" x2="401.4" y2="142.1875" stroke="#ececec" stroke-width="0.3"/>
<line x1="354.4" y1="144.975" x2="401.4" y2="144.975" stroke="#ececec" stroke-width="0.3"/>
<line x1="354.4" y1="147.7625" x2="401.4" y2="147.7625" stroke="#ececec" stroke-width="0.3"/>
<line x1="354.4" y1="150.55" x2="401.4" y2="150.55" stroke="#ececec" stroke-width="0.3"/>
<line x1="354.4" y1="153.3375" x2="401.4" y2="153.3375" stroke="#ececec" stroke-width="0.3"/>
<line x1="354.4" y1="156.125" x2="401.4" y2="156.125" stroke="#ececec" stroke-width="0.3"/>
<line x1="354.4" y1="158.9125" x2="401.4" y2="158.9125" stroke="#ececec" stroke-width="0.3"/>
<line x1="354.4" y1="156.2" x2="401.4" y2="156.2" stroke="#aaaaaa" stroke-width="0.4"/>
<rect x="351.2" y="140.05" width="2.6" height="0.7" fill="#b0b0a8" stroke="none" stroke-width="1"/>
<rect x="351.2" y="142.67352941176472" width="2.6" height="0.7" fill="#b0b0a8" stroke="none" stroke-width="1"/>
<rect x="351.2" y="145.29705882352943" width="2.6" height="0.7" fill="#b0b0a8" stroke="none" stroke-width="1"/>
<rect x="351.2" y="147.92058823529413" width="2.6" height="0.7" fill="#b0b0a8" stroke="none" stroke-width="1"/>
<rect x="351.2" y="150.5441176470588" width="2.6" height="0.7" fill="#b0b0a8" stroke="none" stroke-width="1"/>
<rect x="351.2" y="153.16764705882352" width="2.6" height="0.7" fill="#b0b0a8" stroke="none" stroke-width="1"/>
<rect x="351.2" y="155.79117647058823" width="2.6" height="0.7" fill="#b0b0a8" stroke="none" stroke-width="1"/>
<rect x="351.2" y="158.41470588235293" width="2.6" height="0.7" fill="#b0b0a8" stroke="none" stroke-width="1"/>
<rect x="351.2" y="161.03823529411764" width="2.6" height="0.7" fill="#b0b0a8" stroke="none" stroke-width="1"/>
<text x="350.4" y="150.55" font-size="1.9" text-anchor="middle" fill="#555" font-weight="normal" textLength="15" lengthAdjust="spacingAndGlyphs" transform="rotate(-90 350.4 150.55)">Enrichment score (ES)</text>
<polyline points="354.4,156.4 356.2,158 358.5,156.2 360.4,154 362.8,146.8 364.4,144.4 366.5,142 368.4,140.2 372.4,141.2 374.8,142.6 378,145.6 382.3,148.9 385,150.4 389.3,152.6 394.2,155.6 397.4,157.6 400.6,160.1" fill="none" stroke="#4cef4c" stroke-width="1.1" stroke-linejoin="round"/>
<rect x="354.4" y="161.7" width="47.0" height="7.0" fill="#ffffff" stroke="none" stroke-width="1"/>
<rect x="354.4" y="161.7" width="47.0" height="7.0" fill="url(#bcg348)" stroke="none" stroke-width="1"/>
<rect x="354.4" y="168.7" width="47.0" height="1.9" fill="url(#rb348)" stroke="none" stroke-width="1"/>
<rect x="354.4" y="170.6" width="47.0" height="15.099999999999994" fill="#ffffff" stroke="none" stroke-width="1"/>
<line x1="360.275" y1="170.6" x2="360.275" y2="185.7" stroke="#ececec" stroke-width="0.3"/>
<line x1="366.15" y1="170.6" x2="366.15" y2="185.7" stroke="#ececec" stroke-width="0.3"/>
<line x1="372.025" y1="170.6" x2="372.025" y2="185.7" stroke="#ececec" stroke-width="0.3"/>
<line x1="377.9" y1="170.6" x2="377.9" y2="185.7" stroke="#ececec" stroke-width="0.3"/>
<line x1="383.775" y1="170.6" x2="383.775" y2="185.7" stroke="#ececec" stroke-width="0.3"/>
<line x1="389.65" y1="170.6" x2="389.65" y2="185.7" stroke="#ececec" stroke-width="0.3"/>
<line x1="395.525" y1="170.6" x2="395.525" y2="185.7" stroke="#ececec" stroke-width="0.3"/>
<line x1="375.9" y1="170.6" x2="375.9" y2="185.7" stroke="#c0c0c0" stroke-width="0.3"/>
<text x="354.9" y="172.5" font-size="1.3" text-anchor="start" fill="#ff3030" font-weight="normal" textLength="17" lengthAdjust="spacingAndGlyphs">'na_pos' (positively correlated)</text>
<text x="351.2" y="180.14999999999998" font-size="1.9" text-anchor="middle" fill="#444" font-weight="normal" textLength="18" lengthAdjust="spacingAndGlyphs" transform="rotate(-90 351.2 180.14999999999998)">Ranked list metric (PreRanked)</text>
<text x="353.79999999999995" y="173.6" font-size="1.6" text-anchor="end" fill="#666" font-weight="normal">2</text>
<text x="353.79999999999995" y="177.0" font-size="1.6" text-anchor="end" fill="#666" font-weight="normal">0</text>
<text x="353.79999999999995" y="180.4" font-size="1.6" text-anchor="end" fill="#666" font-weight="normal">-2</text>
<text x="353.79999999999995" y="183.79999999999998" font-size="1.6" text-anchor="end" fill="#666" font-weight="normal">-4</text>
<path d="M354.4,173.6 Q355.4,175.6 358.4,175.79999999999998 L399.4,176.6 L400.4,178.1" fill="none" stroke="#888" stroke-width="0.5"/>
<text x="377.9" y="178.9" font-size="1.5" text-anchor="middle" fill="#444" font-weight="normal">Zero cross at 8984</text>
<text x="397.4" y="184.5" font-size="1.4" text-anchor="end" fill="#4040ff" font-weight="normal" textLength="17" lengthAdjust="spacingAndGlyphs">'na_neg' (negatively correlated)</text>
<rect x="354.2" y="186.29999999999998" width="2.4" height="0.7" fill="#b8b6aa" stroke="none" stroke-width="1"/>
<rect x="360.62857142857143" y="186.29999999999998" width="2.4" height="0.7" fill="#b8b6aa" stroke="none" stroke-width="1"/>
<rect x="367.0571428571428" y="186.29999999999998" width="2.4" height="0.7" fill="#b8b6aa" stroke="none" stroke-width="1"/>
<rect x="373.48571428571427" y="186.29999999999998" width="2.4" height="0.7" fill="#b8b6aa" stroke="none" stroke-width="1"/>
<rect x="379.9142857142857" y="186.29999999999998" width="2.4" height="0.7" fill="#b8b6aa" stroke="none" stroke-width="1"/>
<rect x="386.34285714285716" y="186.29999999999998" width="2.4" height="0.7" fill="#b8b6aa" stroke="none" stroke-width="1"/>
<rect x="392.77142857142854" y="186.29999999999998" width="2.4" height="0.7" fill="#b8b6aa" stroke="none" stroke-width="1"/>
<rect x="399.2" y="186.29999999999998" width="2.4" height="0.7" fill="#b8b6aa" stroke="none" stroke-width="1"/>
<rect x="369.9" y="188.1" width="16" height="0.7" fill="#b8b6aa" stroke="none" stroke-width="1"/>
<rect x="354.4" y="190.0" width="43.0" height="2.4" fill="#f8f8f4" stroke="#c8c6ba" stroke-width="0.3"/>
<rect x="354.9" y="190.6" width="1.5" height="1.2" fill="#44ee44" stroke="none" stroke-width="1"/>
<rect x="357.4" y="190.9" width="12" height="0.6" fill="#c0c0c0" stroke="none" stroke-width="1"/>
<rect x="379.4" y="190.9" width="15" height="0.6" fill="#c0c0c0" stroke="none" stroke-width="1"/>
<rect x="435.5" y="135.4" width="55.5" height="57.400000000000006" fill="#eeecdf" stroke="none" stroke-width="1"/>
<text x="441.5" y="137.45000000000002" font-size="2.6" text-anchor="start" fill="#1a1a1a" font-weight="bold" textLength="43" lengthAdjust="spacingAndGlyphs">Enrichment plot: PID_ATR_PATHWAY</text>
<rect x="440.7" y="139.0" width="47.900000000000034" height="21.900000000000006" fill="#ffffff" stroke="#c8c8c8" stroke-width="0.3"/>
<line x1="446.6875" y1="139.0" x2="446.6875" y2="160.9" stroke="#e6e6e6" stroke-width="0.3"/>
<line x1="452.675" y1="139.0" x2="452.675" y2="160.9" stroke="#e6e6e6" stroke-width="0.3"/>
<line x1="458.6625" y1="139.0" x2="458.6625" y2="160.9" stroke="#e6e6e6" stroke-width="0.3"/>
<line x1="464.65" y1="139.0" x2="464.65" y2="160.9" stroke="#e6e6e6" stroke-width="0.3"/>
<line x1="470.6375" y1="139.0" x2="470.6375" y2="160.9" stroke="#e6e6e6" stroke-width="0.3"/>
<line x1="476.625" y1="139.0" x2="476.625" y2="160.9" stroke="#e6e6e6" stroke-width="0.3"/>
<line x1="482.6125" y1="139.0" x2="482.6125" y2="160.9" stroke="#e6e6e6" stroke-width="0.3"/>
<line x1="440.7" y1="141.7375" x2="488.6" y2="141.7375" stroke="#ececec" stroke-width="0.3"/>
<line x1="440.7" y1="144.475" x2="488.6" y2="144.475" stroke="#ececec" stroke-width="0.3"/>
<line x1="440.7" y1="147.2125" x2="488.6" y2="147.2125" stroke="#ececec" stroke-width="0.3"/>
<line x1="440.7" y1="149.95" x2="488.6" y2="149.95" stroke="#ececec" stroke-width="0.3"/>
<line x1="440.7" y1="152.6875" x2="488.6" y2="152.6875" stroke="#ececec" stroke-width="0.3"/>
<line x1="440.7" y1="155.425" x2="488.6" y2="155.425" stroke="#ececec" stroke-width="0.3"/>
<line x1="440.7" y1="158.1625" x2="488.6" y2="158.1625" stroke="#ececec" stroke-width="0.3"/>
<line x1="440.7" y1="157.2" x2="488.6" y2="157.2" stroke="#aaaaaa" stroke-width="0.4"/>
<rect x="437.5" y="139.65" width="2.6" height="0.7" fill="#b0b0a8" stroke="none" stroke-width="1"/>
<rect x="437.5" y="142.2264705882353" width="2.6" height="0.7" fill="#b0b0a8" stroke="none" stroke-width="1"/>
<rect x="437.5" y="144.8029411764706" width="2.6" height="0.7" fill="#b0b0a8" stroke="none" stroke-width="1"/>
<rect x="437.5" y="147.37941176470588" width="2.6" height="0.7" fill="#b0b0a8" stroke="none" stroke-width="1"/>
<rect x="437.5" y="149.9558823529412" width="2.6" height="0.7" fill="#b0b0a8" stroke="none" stroke-width="1"/>
<rect x="437.5" y="152.53235294117647" width="2.6" height="0.7" fill="#b0b0a8" stroke="none" stroke-width="1"/>
<rect x="437.5" y="155.10882352941178" width="2.6" height="0.7" fill="#b0b0a8" stroke="none" stroke-width="1"/>
<rect x="437.5" y="157.68529411764706" width="2.6" height="0.7" fill="#b0b0a8" stroke="none" stroke-width="1"/>
<rect x="437.5" y="160.26176470588237" width="2.6" height="0.7" fill="#b0b0a8" stroke="none" stroke-width="1"/>
<text x="437.7" y="149.95" font-size="1.9" text-anchor="middle" fill="#555" font-weight="normal" textLength="15" lengthAdjust="spacingAndGlyphs" transform="rotate(-90 437.7 149.95)">Enrichment score (ES)</text>
<polyline points="440.7,157.9 443.3,159.8 445.4,151.9 447.7,142.4 449.3,140.1 451.7,140.1 455.3,142.1 457.2,142.1 460.3,143.7 467.4,147.2 474.5,151.1 480,155 482,153.8 487.9,157.9" fill="none" stroke="#4cef4c" stroke-width="1.1" stroke-linejoin="round"/>
<rect x="440.7" y="160.9" width="47.900000000000034" height="7.0" fill="#ffffff" stroke="none" stroke-width="1"/>
<rect x="440.7" y="160.9" width="47.900000000000034" height="7.0" fill="url(#bcg435)" stroke="none" stroke-width="1"/>
<rect x="440.7" y="167.9" width="47.900000000000034" height="1.9" fill="url(#rb435)" stroke="none" stroke-width="1"/>
<rect x="440.7" y="169.8" width="47.900000000000034" height="15.099999999999994" fill="#ffffff" stroke="none" stroke-width="1"/>
<line x1="446.6875" y1="169.8" x2="446.6875" y2="184.9" stroke="#ececec" stroke-width="0.3"/>
<line x1="452.675" y1="169.8" x2="452.675" y2="184.9" stroke="#ececec" stroke-width="0.3"/>
<line x1="458.6625" y1="169.8" x2="458.6625" y2="184.9" stroke="#ececec" stroke-width="0.3"/>
<line x1="464.65" y1="169.8" x2="464.65" y2="184.9" stroke="#ececec" stroke-width="0.3"/>
<line x1="470.6375" y1="169.8" x2="470.6375" y2="184.9" stroke="#ececec" stroke-width="0.3"/>
<line x1="476.625" y1="169.8" x2="476.625" y2="184.9" stroke="#ececec" stroke-width="0.3"/>
<line x1="482.6125" y1="169.8" x2="482.6125" y2="184.9" stroke="#ececec" stroke-width="0.3"/>
<line x1="462.65" y1="169.8" x2="462.65" y2="184.9" stroke="#c0c0c0" stroke-width="0.3"/>
<text x="441.2" y="171.70000000000002" font-size="1.3" text-anchor="start" fill="#ff3030" font-weight="normal" textLength="17" lengthAdjust="spacingAndGlyphs">'na_pos' (positively correlated)</text>
<text x="438.5" y="179.35000000000002" font-size="1.9" text-anchor="middle" fill="#444" font-weight="normal" textLength="18" lengthAdjust="spacingAndGlyphs" transform="rotate(-90 438.5 179.35000000000002)">Ranked list metric (PreRanked)</text>
<text x="440.09999999999997" y="172.8" font-size="1.6" text-anchor="end" fill="#666" font-weight="normal">2</text>
<text x="440.09999999999997" y="176.20000000000002" font-size="1.6" text-anchor="end" fill="#666" font-weight="normal">0</text>
<text x="440.09999999999997" y="179.60000000000002" font-size="1.6" text-anchor="end" fill="#666" font-weight="normal">-2</text>
<text x="440.09999999999997" y="183.0" font-size="1.6" text-anchor="end" fill="#666" font-weight="normal">-4</text>
<path d="M440.7,172.8 Q441.7,174.8 444.7,175.0 L486.6,175.8 L487.6,177.3" fill="none" stroke="#888" stroke-width="0.5"/>
<text x="464.65" y="178.10000000000002" font-size="1.5" text-anchor="middle" fill="#444" font-weight="normal">Zero cross at 8984</text>
<text x="484.6" y="183.70000000000002" font-size="1.4" text-anchor="end" fill="#4040ff" font-weight="normal" textLength="17" lengthAdjust="spacingAndGlyphs">'na_neg' (negatively correlated)</text>
<rect x="440.5" y="185.5" width="2.4" height="0.7" fill="#b8b6aa" stroke="none" stroke-width="1"/>
<rect x="447.0571428571429" y="185.5" width="2.4" height="0.7" fill="#b8b6aa" stroke="none" stroke-width="1"/>
<rect x="453.6142857142857" y="185.5" width="2.4" height="0.7" fill="#b8b6aa" stroke="none" stroke-width="1"/>
<rect x="460.1714285714286" y="185.5" width="2.4" height="0.7" fill="#b8b6aa" stroke="none" stroke-width="1"/>
<rect x="466.72857142857146" y="185.5" width="2.4" height="0.7" fill="#b8b6aa" stroke="none" stroke-width="1"/>
<rect x="473.28571428571433" y="185.5" width="2.4" height="0.7" fill="#b8b6aa" stroke="none" stroke-width="1"/>
<rect x="479.84285714285716" y="185.5" width="2.4" height="0.7" fill="#b8b6aa" stroke="none" stroke-width="1"/>
<rect x="486.40000000000003" y="185.5" width="2.4" height="0.7" fill="#b8b6aa" stroke="none" stroke-width="1"/>
<rect x="456.65" y="187.3" width="16" height="0.7" fill="#b8b6aa" stroke="none" stroke-width="1"/>
<rect x="440.7" y="189.8" width="43.900000000000034" height="2.4" fill="#f8f8f4" stroke="#c8c6ba" stroke-width="0.3"/>
<rect x="441.2" y="190.4" width="1.5" height="1.2" fill="#44ee44" stroke="none" stroke-width="1"/>
<rect x="443.7" y="190.70000000000002" width="12" height="0.6" fill="#c0c0c0" stroke="none" stroke-width="1"/>
<rect x="466.6" y="190.70000000000002" width="15" height="0.6" fill="#c0c0c0" stroke="none" stroke-width="1"/>
<rect x="346.2" y="222.8" width="20.5" height="8.853000000000002" fill="#ff4848" stroke="none" stroke-width="1"/>
<rect x="366.4" y="222.8" width="20.5" height="8.853000000000002" fill="#ffaaaa" stroke="none" stroke-width="1"/>
<rect x="386.59999999999997" y="222.8" width="20.5" height="8.853000000000002" fill="#0000ff" stroke="none" stroke-width="1"/>
<text x="408.3" y="228.15650000000002" font-size="3.0" text-anchor="start" fill="#333" font-weight="normal">Rfc3</text>
<rect x="346.2" y="231.353" width="20.5" height="8.853000000000002" fill="#ff5555" stroke="none" stroke-width="1"/>
<rect x="366.4" y="231.353" width="20.5" height="8.853000000000002" fill="#ff9595" stroke="none" stroke-width="1"/>
<rect x="386.59999999999997" y="231.353" width="20.5" height="8.853000000000002" fill="#0000ff" stroke="none" stroke-width="1"/>
<text x="408.3" y="236.70950000000002" font-size="3.0" text-anchor="start" fill="#333" font-weight="normal">Orc4</text>
<rect x="346.2" y="239.906" width="20.5" height="8.853000000000002" fill="#ff6a6a" stroke="none" stroke-width="1"/>
<rect x="366.4" y="239.906" width="20.5" height="8.853000000000002" fill="#ff8282" stroke="none" stroke-width="1"/>
<rect x="386.59999999999997" y="239.906" width="20.5" height="8.853000000000002" fill="#0000ff" stroke="none" stroke-width="1"/>
<text x="408.3" y="245.26250000000002" font-size="3.0" text-anchor="start" fill="#333" font-weight="normal">Orc5</text>
<rect x="346.2" y="248.459" width="20.5" height="8.853000000000002" fill="#ff7575" stroke="none" stroke-width="1"/>
<rect x="366.4" y="248.459" width="20.5" height="8.853000000000002" fill="#ff8080" stroke="none" stroke-width="1"/>
<rect x="386.59999999999997" y="248.459" width="20.5" height="8.853000000000002" fill="#0000ff" stroke="none" stroke-width="1"/>
<text x="408.3" y="253.81550000000001" font-size="3.0" text-anchor="start" fill="#333" font-weight="normal">Gmnl</text>
<rect x="346.2" y="257.012" width="20.5" height="8.853000000000002" fill="#ffe0e0" stroke="none" stroke-width="1"/>
<rect x="366.4" y="257.012" width="20.5" height="8.853000000000002" fill="#ff3535" stroke="none" stroke-width="1"/>
<rect x="386.59999999999997" y="257.012" width="20.5" height="8.853000000000002" fill="#1a1aff" stroke="none" stroke-width="1"/>
<text x="408.3" y="262.3685" font-size="3.0" text-anchor="start" fill="#333" font-weight="normal">Tada1</text>
<rect x="346.2" y="265.565" width="20.5" height="8.853000000000002" fill="#ffb5b5" stroke="none" stroke-width="1"/>
<rect x="366.4" y="265.565" width="20.5" height="8.853000000000002" fill="#ff4545" stroke="none" stroke-width="1"/>
<rect x="386.59999999999997" y="265.565" width="20.5" height="8.853000000000002" fill="#0808ff" stroke="none" stroke-width="1"/>
<text x="408.3" y="270.9215" font-size="3.0" text-anchor="start" fill="#333" font-weight="normal">Cdc7</text>
<rect x="346.2" y="274.118" width="20.5" height="8.853000000000002" fill="#1515ff" stroke="none" stroke-width="1"/>
<rect x="366.4" y="274.118" width="20.5" height="8.853000000000002" fill="#ff3030" stroke="none" stroke-width="1"/>
<rect x="386.59999999999997" y="274.118" width="20.5" height="8.853000000000002" fill="#fff0ec" stroke="none" stroke-width="1"/>
<text x="408.3" y="279.4745" font-size="3.0" text-anchor="start" fill="#333" font-weight="normal">Mcm6</text>
<rect x="346.2" y="282.67100000000005" width="20.5" height="8.853000000000002" fill="#ffa0a0" stroke="none" stroke-width="1"/>
<rect x="366.4" y="282.67100000000005" width="20.5" height="8.853000000000002" fill="#ff5050" stroke="none" stroke-width="1"/>
<rect x="386.59999999999997" y="282.67100000000005" width="20.5" height="8.853000000000002" fill="#0000ff" stroke="none" stroke-width="1"/>
<text x="408.3" y="288.02750000000003" font-size="3.0" text-anchor="start" fill="#333" font-weight="normal">Pola1</text>
<rect x="346.2" y="291.22400000000005" width="20.5" height="8.853000000000002" fill="#5050ff" stroke="none" stroke-width="1"/>
<rect x="366.4" y="291.22400000000005" width="20.5" height="8.853000000000002" fill="#a8acff" stroke="none" stroke-width="1"/>
<rect x="386.59999999999997" y="291.22400000000005" width="20.5" height="8.853000000000002" fill="#ff0000" stroke="none" stroke-width="1"/>
<text x="408.3" y="296.58050000000003" font-size="3.0" text-anchor="start" fill="#333" font-weight="normal">Gmnn</text>
<rect x="346.2" y="299.77700000000004" width="20.5" height="8.853000000000002" fill="#2525ff" stroke="none" stroke-width="1"/>
<rect x="366.4" y="299.77700000000004" width="20.5" height="8.853000000000002" fill="#e4e4ff" stroke="none" stroke-width="1"/>
<rect x="386.59999999999997" y="299.77700000000004" width="20.5" height="8.853000000000002" fill="#ff1010" stroke="none" stroke-width="1"/>
<text x="408.3" y="305.1335" font-size="3.0" text-anchor="start" fill="#333" font-weight="normal">Mcm5</text>
<rect x="346.2" y="308.33000000000004" width="20.5" height="8.853000000000002" fill="#0000ff" stroke="none" stroke-width="1"/>
<rect x="366.4" y="308.33000000000004" width="20.5" height="8.853000000000002" fill="#ff9090" stroke="none" stroke-width="1"/>
<rect x="386.59999999999997" y="308.33000000000004" width="20.5" height="8.853000000000002" fill="#ff5050" stroke="none" stroke-width="1"/>
<text x="408.3" y="313.6865" font-size="3.0" text-anchor="start" fill="#333" font-weight="normal">Cdc45</text>
<rect x="346.2" y="316.88300000000004" width="20.5" height="8.853000000000002" fill="#1515ff" stroke="none" stroke-width="1"/>
<rect x="366.4" y="316.88300000000004" width="20.5" height="8.853000000000002" fill="#ff2525" stroke="none" stroke-width="1"/>
<rect x="386.59999999999997" y="316.88300000000004" width="20.5" height="8.853000000000002" fill="#fff0f0" stroke="none" stroke-width="1"/>
<text x="408.3" y="322.2395" font-size="3.0" text-anchor="start" fill="#333" font-weight="normal">Mcm7</text>
<rect x="346.2" y="325.43600000000004" width="20.5" height="8.853000000000002" fill="#2a2aff" stroke="none" stroke-width="1"/>
<rect x="366.4" y="325.43600000000004" width="20.5" height="8.853000000000002" fill="#ff1515" stroke="none" stroke-width="1"/>
<rect x="386.59999999999997" y="325.43600000000004" width="20.5" height="8.853000000000002" fill="#dcdcff" stroke="none" stroke-width="1"/>
<text x="408.3" y="330.7925" font-size="3.0" text-anchor="start" fill="#333" font-weight="normal">Orc1</text>
<rect x="346.2" y="333.98900000000003" width="20.5" height="8.853000000000002" fill="#0000ff" stroke="none" stroke-width="1"/>
<rect x="366.4" y="333.98900000000003" width="20.5" height="8.853000000000002" fill="#ff4545" stroke="none" stroke-width="1"/>
<rect x="386.59999999999997" y="333.98900000000003" width="20.5" height="8.853000000000002" fill="#ffc5c5" stroke="none" stroke-width="1"/>
<text x="408.3" y="339.3455" font-size="3.0" text-anchor="start" fill="#333" font-weight="normal">Mcm2</text>
<rect x="346.2" y="342.54200000000003" width="20.5" height="8.853000000000002" fill="#0000ff" stroke="none" stroke-width="1"/>
<rect x="366.4" y="342.54200000000003" width="20.5" height="8.853000000000002" fill="#ff4a4a" stroke="none" stroke-width="1"/>
<rect x="386.59999999999997" y="342.54200000000003" width="20.5" height="8.853000000000002" fill="#ffb5b5" stroke="none" stroke-width="1"/>
<text x="408.3" y="347.8985" font-size="3.0" text-anchor="start" fill="#333" font-weight="normal">Mcm3</text>
<rect x="346.2" y="351.095" width="20.5" height="8.853000000000002" fill="#6a6aff" stroke="none" stroke-width="1"/>
<rect x="366.4" y="351.095" width="20.5" height="8.853000000000002" fill="#ff0505" stroke="none" stroke-width="1"/>
<rect x="386.59999999999997" y="351.095" width="20.5" height="8.853000000000002" fill="#9595ff" stroke="none" stroke-width="1"/>
<text x="408.3" y="356.4515" font-size="3.0" text-anchor="start" fill="#333" font-weight="normal">Cdc6</text>
<rect x="346.2" y="359.648" width="20.5" height="8.853000000000002" fill="#1515ff" stroke="none" stroke-width="1"/>
<rect x="366.4" y="359.648" width="20.5" height="8.853000000000002" fill="#ff2525" stroke="none" stroke-width="1"/>
<rect x="386.59999999999997" y="359.648" width="20.5" height="8.853000000000002" fill="#fff0f0" stroke="none" stroke-width="1"/>
<text x="408.3" y="365.0045" font-size="3.0" text-anchor="start" fill="#333" font-weight="normal">Mcm10</text>
<rect x="346.2" y="368.201" width="20.5" height="8.853000000000002" fill="#ff9c9c" stroke="none" stroke-width="1"/>
<rect x="366.4" y="368.201" width="20.5" height="8.853000000000002" fill="#ff5555" stroke="none" stroke-width="1"/>
<rect x="386.59999999999997" y="368.201" width="20.5" height="8.853000000000002" fill="#0000ff" stroke="none" stroke-width="1"/>
<text x="408.3" y="373.5575" font-size="3.0" text-anchor="start" fill="#333" font-weight="normal">Prps1</text>
<text x="375.65" y="209.4" font-size="5.8" text-anchor="middle" fill="#222" font-weight="normal" stroke="#222" stroke-width="0.24" textLength="16.1" lengthAdjust="spacingAndGlyphs">E<tspan font-size="4.2" dy="0.9">μ</tspan><tspan dy="-0.9">Myc</tspan></text>
<line x1="345.8" y1="211.8" x2="406.3" y2="211.8" stroke="#555" stroke-width="1.4"/>
<text x="355.35" y="219.5" font-size="5.4" text-anchor="middle" fill="#222" font-weight="normal" stroke="#222" stroke-width="0.24" textLength="8.2" lengthAdjust="spacingAndGlyphs">WT</text>
<text x="376.3" y="219.5" font-size="5.4" text-anchor="middle" fill="#222" font-weight="normal" stroke="#222" stroke-width="0.24" textLength="20.4" lengthAdjust="spacingAndGlyphs">Parp2<tspan font-size="3.8" dy="-1.7">–/–</tspan></text>
<text x="397.75" y="219.5" font-size="5.4" text-anchor="middle" fill="#222" font-weight="normal" stroke="#222" stroke-width="0.24" textLength="20.4" lengthAdjust="spacingAndGlyphs">Parp1<tspan font-size="3.8" dy="-1.7">–/–</tspan></text>
<rect x="432.2" y="224.0" width="20.150000000000002" height="7.35" fill="#ff5a5a" stroke="none" stroke-width="1"/>
<rect x="452.05" y="224.0" width="20.150000000000002" height="7.35" fill="#ffa0a0" stroke="none" stroke-width="1"/>
<rect x="471.9" y="224.0" width="20.150000000000002" height="7.35" fill="#0000ff" stroke="none" stroke-width="1"/>
<text x="494.0" y="229.109" font-size="4.4" text-anchor="start" fill="#111" font-weight="normal">Hus1</text>
<rect x="432.2" y="231.05" width="20.150000000000002" height="7.35" fill="#ff6a6a" stroke="none" stroke-width="1"/>
<rect x="452.05" y="231.05" width="20.150000000000002" height="7.35" fill="#ff8f8f" stroke="none" stroke-width="1"/>
<rect x="471.9" y="231.05" width="20.150000000000002" height="7.35" fill="#0000ff" stroke="none" stroke-width="1"/>
<text x="494.0" y="236.15900000000002" font-size="4.4" text-anchor="start" fill="#111" font-weight="normal">Cdk2</text>
<rect x="432.2" y="238.1" width="20.150000000000002" height="7.35" fill="#ff5555" stroke="none" stroke-width="1"/>
<rect x="452.05" y="238.1" width="20.150000000000002" height="7.35" fill="#ffaaaa" stroke="none" stroke-width="1"/>
<rect x="471.9" y="238.1" width="20.150000000000002" height="7.35" fill="#0000ff" stroke="none" stroke-width="1"/>
<text x="494.0" y="243.209" font-size="4.4" text-anchor="start" fill="#111" font-weight="normal">Fbxw11</text>
<rect x="432.2" y="245.15" width="20.150000000000002" height="7.35" fill="#ff9090" stroke="none" stroke-width="1"/>
<rect x="452.05" y="245.15" width="20.150000000000002" height="7.35" fill="#ff6a6a" stroke="none" stroke-width="1"/>
<rect x="471.9" y="245.15" width="20.150000000000002" height="7.35" fill="#0000ff" stroke="none" stroke-width="1"/>
<text x="494.0" y="250.25900000000001" font-size="4.4" text-anchor="start" fill="#111" font-weight="normal">Mdm2</text>
<rect x="432.2" y="252.2" width="20.150000000000002" height="7.35" fill="#ffd0d0" stroke="none" stroke-width="1"/>
<rect x="452.05" y="252.2" width="20.150000000000002" height="7.35" fill="#ff3a3a" stroke="none" stroke-width="1"/>
<rect x="471.9" y="252.2" width="20.150000000000002" height="7.35" fill="#1010ff" stroke="none" stroke-width="1"/>
<text x="494.0" y="257.30899999999997" font-size="4.4" text-anchor="start" fill="#111" font-weight="normal">Ppp2ra</text>
<rect x="432.2" y="259.25" width="20.150000000000002" height="7.35" fill="#e0e0ff" stroke="none" stroke-width="1"/>
<rect x="452.05" y="259.25" width="20.150000000000002" height="7.35" fill="#ff1515" stroke="none" stroke-width="1"/>
<rect x="471.9" y="259.25" width="20.150000000000002" height="7.35" fill="#3535ff" stroke="none" stroke-width="1"/>
<text x="494.0" y="264.359" font-size="4.4" text-anchor="start" fill="#111" font-weight="normal">Rfc5</text>
<rect x="432.2" y="266.3" width="20.150000000000002" height="7.35" fill="#ffd0d0" stroke="none" stroke-width="1"/>
<rect x="452.05" y="266.3" width="20.150000000000002" height="7.35" fill="#ff3535" stroke="none" stroke-width="1"/>
<rect x="471.9" y="266.3" width="20.150000000000002" height="7.35" fill="#1515ff" stroke="none" stroke-width="1"/>
<text x="494.0" y="271.409" font-size="4.4" text-anchor="start" fill="#111" font-weight="normal">Nbn</text>
<rect x="432.2" y="273.35" width="20.150000000000002" height="7.35" fill="#fff8f5" stroke="none" stroke-width="1"/>
<rect x="452.05" y="273.35" width="20.150000000000002" height="7.35" fill="#ff2020" stroke="none" stroke-width="1"/>
<rect x="471.9" y="273.35" width="20.150000000000002" height="7.35" fill="#2525ff" stroke="none" stroke-width="1"/>
<text x="494.0" y="278.459" font-size="4.4" text-anchor="start" fill="#111" font-weight="normal">Ccna2</text>
<rect x="432.2" y="280.4" width="20.150000000000002" height="7.35" fill="#1515ff" stroke="none" stroke-width="1"/>
<rect x="452.05" y="280.4" width="20.150000000000002" height="7.35" fill="#f0f0ff" stroke="none" stroke-width="1"/>
<rect x="471.9" y="280.4" width="20.150000000000002" height="7.35" fill="#ff2020" stroke="none" stroke-width="1"/>
<text x="494.0" y="285.50899999999996" font-size="4.4" text-anchor="start" fill="#111" font-weight="normal">Plk1</text>
<rect x="432.2" y="287.45" width="20.150000000000002" height="7.35" fill="#1010ff" stroke="none" stroke-width="1"/>
<rect x="452.05" y="287.45" width="20.150000000000002" height="7.35" fill="#ff2828" stroke="none" stroke-width="1"/>
<rect x="471.9" y="287.45" width="20.150000000000002" height="7.35" fill="#ffeeee" stroke="none" stroke-width="1"/>
<text x="494.0" y="292.55899999999997" font-size="4.4" text-anchor="start" fill="#111" font-weight="normal">Mcm7</text>
<rect x="432.2" y="294.5" width="20.150000000000002" height="7.35" fill="#0505ff" stroke="none" stroke-width="1"/>
<rect x="452.05" y="294.5" width="20.150000000000002" height="7.35" fill="#ff6a6a" stroke="none" stroke-width="1"/>
<rect x="471.9" y="294.5" width="20.150000000000002" height="7.35" fill="#ff9a9a" stroke="none" stroke-width="1"/>
<text x="494.0" y="299.609" font-size="4.4" text-anchor="start" fill="#111" font-weight="normal">Rfc2</text>
<rect x="432.2" y="301.55" width="20.150000000000002" height="7.35" fill="#0a0aff" stroke="none" stroke-width="1"/>
<rect x="452.05" y="301.55" width="20.150000000000002" height="7.35" fill="#ff4a4a" stroke="none" stroke-width="1"/>
<rect x="471.9" y="301.55" width="20.150000000000002" height="7.35" fill="#ffc8c8" stroke="none" stroke-width="1"/>
<text x="494.0" y="306.659" font-size="4.4" text-anchor="start" fill="#111" font-weight="normal">Mcm2</text>
<rect x="432.2" y="308.6" width="20.150000000000002" height="7.35" fill="#7070ff" stroke="none" stroke-width="1"/>
<rect x="452.05" y="308.6" width="20.150000000000002" height="7.35" fill="#ff0a0a" stroke="none" stroke-width="1"/>
<rect x="471.9" y="308.6" width="20.150000000000002" height="7.35" fill="#9a9aff" stroke="none" stroke-width="1"/>
<text x="494.0" y="313.709" font-size="4.4" text-anchor="start" fill="#111" font-weight="normal">Cdc6</text>
<rect x="432.2" y="315.65" width="20.150000000000002" height="7.35" fill="#1515ff" stroke="none" stroke-width="1"/>
<rect x="452.05" y="315.65" width="20.150000000000002" height="7.35" fill="#fff0f0" stroke="none" stroke-width="1"/>
<rect x="471.9" y="315.65" width="20.150000000000002" height="7.35" fill="#ff3030" stroke="none" stroke-width="1"/>
<text x="494.0" y="320.75899999999996" font-size="4.4" text-anchor="start" fill="#111" font-weight="normal">Rpa2</text>
<rect x="432.2" y="322.7" width="20.150000000000002" height="7.35" fill="#ffc0c0" stroke="none" stroke-width="1"/>
<rect x="452.05" y="322.7" width="20.150000000000002" height="7.35" fill="#ff4545" stroke="none" stroke-width="1"/>
<rect x="471.9" y="322.7" width="20.150000000000002" height="7.35" fill="#0505ff" stroke="none" stroke-width="1"/>
<text x="494.0" y="327.80899999999997" font-size="4.4" text-anchor="start" fill="#111" font-weight="normal">Atrip</text>
<text x="460.95" y="209.4" font-size="5.8" text-anchor="middle" fill="#222" font-weight="normal" stroke="#222" stroke-width="0.24" textLength="16.1" lengthAdjust="spacingAndGlyphs">E<tspan font-size="4.2" dy="0.9">μ</tspan><tspan dy="-0.9">Myc</tspan></text>
<line x1="430.4" y1="211.8" x2="491.3" y2="211.8" stroke="#555" stroke-width="1.4"/>
<text x="440.75" y="219.5" font-size="5.4" text-anchor="middle" fill="#222" font-weight="normal" stroke="#222" stroke-width="0.24" textLength="8.2" lengthAdjust="spacingAndGlyphs">WT</text>
<text x="461.3" y="219.5" font-size="5.4" text-anchor="middle" fill="#222" font-weight="normal" stroke="#222" stroke-width="0.24" textLength="20.4" lengthAdjust="spacingAndGlyphs">Parp2<tspan font-size="3.8" dy="-1.7">–/–</tspan></text>
<text x="483.2" y="219.5" font-size="5.4" text-anchor="middle" fill="#222" font-weight="normal" stroke="#222" stroke-width="0.24" textLength="20.4" lengthAdjust="spacingAndGlyphs">Parp1<tspan font-size="3.8" dy="-1.7">–/–</tspan></text>
</g>
<rect x="0.75" y="0.75" width="518.5" height="398.5" fill="none" stroke="#000" stroke-width="1.5"/>
<rect x="2.25" y="2.25" width="515.5" height="395.5" fill="none" stroke="#000" stroke-opacity="0.2" stroke-width="0.5"/>
</svg>
</body></html>
